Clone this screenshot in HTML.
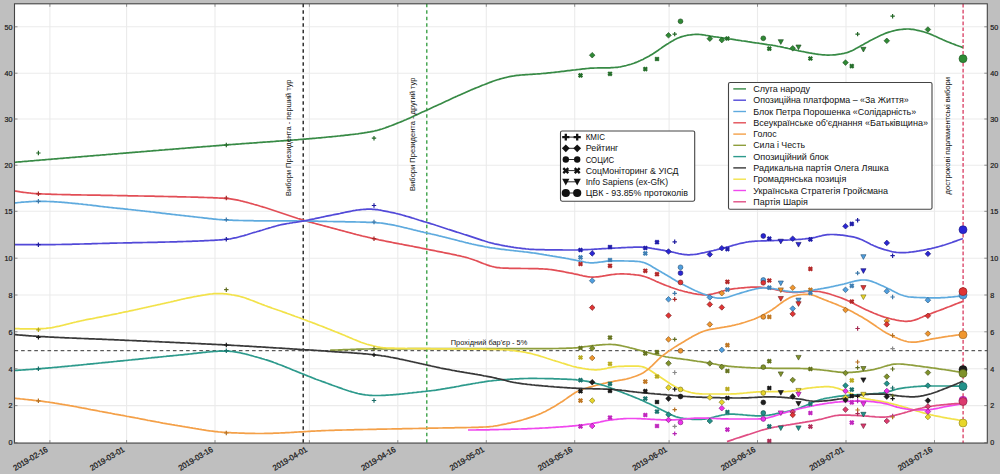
<!DOCTYPE html><html><head><meta charset="utf-8"><style>html,body{margin:0;padding:0;background:#bfbfbf;width:1000px;height:474px;overflow:hidden}svg{display:block}text{font-family:"Liberation Sans",sans-serif;fill:#111}</style></head><body>
<svg width="1000" height="474" viewBox="0 0 1000 474">
<rect x="0" y="0" width="1000" height="474" fill="#bfbfbf"/>
<rect x="14.5" y="3.8" width="972.8" height="439.3" fill="#ffffff"/>
<path d="M14.5,442.6H987.3M14.5,405.6H987.3M14.5,368.8H987.3M14.5,331.8H987.3M14.5,295.0H987.3M14.5,258.2H987.3M14.5,211.3H987.3M14.5,165.2H987.3M14.5,119.0H987.3M14.5,73.2H987.3M14.5,26.8H987.3M49.9,3.8V443.1M126.6,3.8V443.1M215.0,3.8V443.1M309.4,3.8V443.1M397.8,3.8V443.1M486.3,3.8V443.1M574.7,3.8V443.1M669.1,3.8V443.1M757.5,3.8V443.1M846.0,3.8V443.1M934.5,3.8V443.1" stroke="#ebebeb" stroke-width="1.1" fill="none"/>
<path d="M14.5,350.7H987.3" stroke="#333" stroke-width="1.0" stroke-dasharray="3.6,3.0" fill="none"/>
<text x="450.8" y="345.3" font-size="8" textLength="76.5" lengthAdjust="spacingAndGlyphs">Прохідний бар'єр - 5%</text>
<path d="M303.2,3.8V443.1" stroke="#111" stroke-width="1.3" stroke-dasharray="3.4,3.1" fill="none"/>
<path d="M426.8,3.8V443.1" stroke="#2e9a3a" stroke-width="1.3" stroke-dasharray="3.4,3.1" fill="none"/>
<path d="M963.1,3.8V443.1" stroke="#da4266" stroke-width="1.35" stroke-dasharray="3.7,2.2" fill="none"/>
<path d="M330.0,350.3 L331.5,350.2 L333.0,350.2 L334.5,350.1 L336.0,350.0 L337.5,350.0 L339.0,349.9 L340.5,349.8 L342.0,349.8 L343.5,349.7 L345.0,349.7 L346.5,349.6 L348.0,349.5 L349.5,349.5 L351.0,349.4 L352.5,349.4 L354.0,349.3 L355.5,349.3 L357.0,349.2 L358.5,349.2 L360.0,349.2 L361.5,349.1 L363.0,349.1 L364.5,349.0 L366.0,349.0 L367.5,349.0 L369.0,349.0 L370.5,348.9 L372.0,348.9 L373.5,348.9 L375.0,348.9 L376.5,348.9 L378.0,348.9 L379.5,348.9 L381.0,348.9 L382.5,348.9 L384.0,348.8 L385.5,348.8 L387.0,348.8 L388.5,348.8 L390.0,348.8 L391.5,348.8 L393.0,348.8 L394.5,348.8 L396.0,348.8 L397.5,348.8 L399.0,348.8 L400.5,348.8 L402.0,348.8 L403.5,348.8 L405.0,348.8 L406.5,348.8 L408.0,348.7 L409.5,348.7 L411.0,348.7 L412.5,348.7 L414.0,348.7 L415.5,348.7 L417.0,348.7 L418.5,348.7 L420.0,348.7 L421.5,348.7 L423.0,348.7 L424.5,348.7 L426.0,348.7 L427.5,348.7 L429.0,348.7 L430.5,348.7 L432.0,348.7 L433.5,348.7 L435.0,348.7 L436.5,348.7 L438.0,348.7 L439.5,348.7 L441.0,348.7 L442.5,348.7 L444.0,348.7 L445.5,348.7 L447.0,348.7 L448.5,348.7 L450.0,348.7 L451.5,348.7 L453.0,348.7 L454.5,348.7 L456.0,348.7 L457.5,348.7 L459.0,348.7 L460.5,348.7 L462.0,348.7 L463.5,348.7 L465.0,348.7 L466.5,348.7 L468.0,348.7 L469.5,348.7 L471.0,348.7 L472.5,348.7 L474.0,348.7 L475.5,348.7 L477.0,348.7 L478.5,348.7 L480.0,348.7 L481.5,348.7 L483.0,348.7 L484.5,348.7 L486.0,348.7 L487.5,348.7 L489.0,348.7 L490.5,348.7 L492.0,348.7 L493.5,348.7 L495.0,348.7 L496.5,348.7 L498.0,348.7 L499.5,348.7 L501.0,348.7 L502.5,348.7 L504.0,348.7 L505.5,348.7 L507.0,348.7 L508.5,348.7 L510.0,348.7 L511.5,348.7 L513.0,348.7 L514.5,348.7 L516.0,348.7 L517.5,348.7 L519.0,348.7 L520.5,348.7 L522.0,348.7 L523.5,348.7 L525.0,348.7 L526.5,348.7 L528.0,348.7 L529.5,348.7 L531.0,348.7 L532.5,348.7 L534.0,348.7 L535.5,348.7 L537.0,348.7 L538.5,348.7 L540.0,348.7 L541.5,348.7 L543.0,348.7 L544.5,348.7 L546.0,348.6 L547.5,348.6 L549.0,348.6 L550.5,348.6 L552.0,348.6 L553.5,348.5 L555.0,348.5 L556.5,348.5 L558.0,348.5 L559.5,348.4 L561.0,348.4 L562.5,348.4 L564.0,348.3 L565.5,348.3 L567.0,348.2 L568.5,348.2 L570.0,348.1 L571.5,348.1 L573.0,348.0 L574.5,347.9 L576.0,347.8 L577.5,347.7 L579.0,347.5 L580.5,347.3 L582.0,347.1 L583.5,346.9 L585.0,346.7 L586.5,346.5 L588.0,346.3 L589.5,346.1 L591.0,345.9 L592.5,345.7 L594.0,345.5 L595.5,345.4 L597.0,345.2 L598.5,345.1 L600.0,344.9 L601.5,344.8 L603.0,344.7 L604.5,344.6 L606.0,344.5 L607.5,344.5 L609.0,344.4 L610.5,344.4 L612.0,344.5 L613.5,344.6 L615.0,344.7 L616.5,344.9 L618.0,345.1 L619.5,345.4 L621.0,345.7 L622.5,346.0 L624.0,346.3 L625.5,346.7 L627.0,347.0 L628.5,347.4 L630.0,347.8 L631.5,348.1 L633.0,348.5 L634.5,348.9 L636.0,349.3 L637.5,349.7 L639.0,350.1 L640.5,350.5 L642.0,350.9 L643.5,351.3 L645.0,351.8 L646.5,352.2 L648.0,352.6 L649.5,353.0 L651.0,353.4 L652.5,353.8 L654.0,354.1 L655.5,354.5 L657.0,354.9 L658.5,355.2 L660.0,355.5 L661.5,355.9 L663.0,356.2 L664.5,356.5 L666.0,356.8 L667.5,357.0 L669.0,357.3 L670.5,357.5 L672.0,357.7 L673.5,358.0 L675.0,358.2 L676.5,358.4 L678.0,358.6 L679.5,358.7 L681.0,358.9 L682.5,359.1 L684.0,359.3 L685.5,359.5 L687.0,359.7 L688.5,359.9 L690.0,360.2 L691.5,360.4 L693.0,360.6 L694.5,360.8 L696.0,361.0 L697.5,361.3 L699.0,361.5 L700.5,361.7 L702.0,361.9 L703.5,362.2 L705.0,362.4 L706.5,362.6 L708.0,362.9 L709.5,363.2 L711.0,363.4 L712.5,363.7 L714.0,364.0 L715.5,364.2 L717.0,364.5 L718.5,364.8 L720.0,365.0 L721.5,365.3 L723.0,365.5 L724.5,365.7 L726.0,365.9 L727.5,366.1 L729.0,366.3 L730.5,366.4 L732.0,366.6 L733.5,366.7 L735.0,366.8 L736.5,366.9 L738.0,367.0 L739.5,367.1 L741.0,367.2 L742.5,367.3 L744.0,367.4 L745.5,367.5 L747.0,367.6 L748.5,367.7 L750.0,367.7 L751.5,367.8 L753.0,367.9 L754.5,367.9 L756.0,368.0 L757.5,368.0 L759.0,368.1 L760.5,368.1 L762.0,368.1 L763.5,368.2 L765.0,368.2 L766.5,368.2 L768.0,368.2 L769.5,368.2 L771.0,368.2 L772.5,368.3 L774.0,368.3 L775.5,368.3 L777.0,368.3 L778.5,368.3 L780.0,368.3 L781.5,368.3 L783.0,368.3 L784.5,368.3 L786.0,368.3 L787.5,368.3 L789.0,368.3 L790.5,368.3 L792.0,368.3 L793.5,368.4 L795.0,368.4 L796.5,368.4 L798.0,368.4 L799.5,368.4 L801.0,368.5 L802.5,368.5 L804.0,368.6 L805.5,368.7 L807.0,368.7 L808.5,368.8 L810.0,369.0 L811.5,369.1 L813.0,369.2 L814.5,369.3 L816.0,369.4 L817.5,369.6 L819.0,369.7 L820.5,369.8 L822.0,370.0 L823.5,370.2 L825.0,370.3 L826.5,370.5 L828.0,370.7 L829.5,370.9 L831.0,371.1 L832.5,371.3 L834.0,371.5 L835.5,371.7 L837.0,371.9 L838.5,372.1 L840.0,372.2 L841.5,372.3 L843.0,372.4 L844.5,372.5 L846.0,372.5 L847.5,372.5 L849.0,372.4 L850.5,372.4 L852.0,372.3 L853.5,372.2 L855.0,372.1 L856.5,371.9 L858.0,371.8 L859.5,371.6 L861.0,371.4 L862.5,371.2 L864.0,371.0 L865.5,370.8 L867.0,370.6 L868.5,370.3 L870.0,370.1 L871.5,369.8 L873.0,369.6 L874.5,369.3 L876.0,368.9 L877.5,368.5 L879.0,368.1 L880.5,367.7 L882.0,367.2 L883.5,366.8 L885.0,366.3 L886.5,365.9 L888.0,365.4 L889.5,365.1 L891.0,364.7 L892.5,364.4 L894.0,364.2 L895.5,364.1 L897.0,364.0 L898.5,364.0 L900.0,364.0 L901.5,364.1 L903.0,364.2 L904.5,364.3 L906.0,364.5 L907.5,364.7 L909.0,364.8 L910.5,365.0 L912.0,365.2 L913.5,365.4 L915.0,365.6 L916.5,365.8 L918.0,366.0 L919.5,366.2 L921.0,366.4 L922.5,366.6 L924.0,366.8 L925.5,367.0 L927.0,367.2 L928.5,367.4 L930.0,367.6 L931.5,367.8 L933.0,368.0 L934.5,368.2 L936.0,368.4 L937.5,368.6 L939.0,368.9 L940.5,369.1 L942.0,369.3 L943.5,369.5 L945.0,369.7 L946.5,370.0 L948.0,370.2 L949.5,370.4 L951.0,370.6 L952.5,370.9 L954.0,371.1 L955.5,371.4 L957.0,371.6 L958.5,371.8 L960.0,372.1 L961.5,372.3 L963.0,372.6" stroke="#8e9e3c" stroke-width="1.7" fill="none" stroke-linejoin="round"/>
<path d="M14.4,328.7 L15.9,328.7 L17.4,328.7 L18.9,328.7 L20.4,328.8 L21.9,328.8 L23.4,328.8 L24.9,328.8 L26.4,328.8 L27.9,328.8 L29.4,328.8 L30.9,328.8 L32.4,328.8 L33.9,328.8 L35.4,328.8 L36.9,328.8 L38.4,328.8 L39.9,328.7 L41.4,328.7 L42.9,328.6 L44.4,328.5 L45.9,328.4 L47.4,328.2 L48.9,328.0 L50.4,327.8 L51.9,327.6 L53.4,327.3 L54.9,327.0 L56.4,326.7 L57.9,326.4 L59.4,326.1 L60.9,325.7 L62.4,325.4 L63.9,325.0 L65.4,324.6 L66.9,324.2 L68.4,323.9 L69.9,323.5 L71.4,323.1 L72.9,322.7 L74.4,322.3 L75.9,322.0 L77.4,321.6 L78.9,321.3 L80.4,321.0 L81.9,320.7 L83.4,320.3 L84.9,320.0 L86.4,319.7 L87.9,319.4 L89.4,319.1 L90.9,318.8 L92.4,318.6 L93.9,318.3 L95.4,318.0 L96.9,317.7 L98.4,317.4 L99.9,317.1 L101.4,316.8 L102.9,316.5 L104.4,316.2 L105.9,315.9 L107.4,315.6 L108.9,315.3 L110.4,315.0 L111.9,314.7 L113.4,314.4 L114.9,314.1 L116.4,313.8 L117.9,313.5 L119.4,313.1 L120.9,312.8 L122.4,312.5 L123.9,312.2 L125.4,311.9 L126.9,311.6 L128.4,311.3 L129.9,310.9 L131.4,310.6 L132.9,310.3 L134.4,310.0 L135.9,309.7 L137.4,309.3 L138.9,309.0 L140.4,308.7 L141.9,308.3 L143.4,308.0 L144.9,307.7 L146.4,307.3 L147.9,307.0 L149.4,306.7 L150.9,306.3 L152.4,306.0 L153.9,305.7 L155.4,305.3 L156.9,305.0 L158.4,304.7 L159.9,304.4 L161.4,304.0 L162.9,303.7 L164.4,303.3 L165.9,303.0 L167.4,302.7 L168.9,302.3 L170.4,302.0 L171.9,301.6 L173.4,301.3 L174.9,300.9 L176.4,300.6 L177.9,300.2 L179.4,299.9 L180.9,299.5 L182.4,299.2 L183.9,298.8 L185.4,298.5 L186.9,298.2 L188.4,297.9 L189.9,297.6 L191.4,297.3 L192.9,297.0 L194.4,296.7 L195.9,296.5 L197.4,296.2 L198.9,295.9 L200.4,295.7 L201.9,295.4 L203.4,295.1 L204.9,294.9 L206.4,294.6 L207.9,294.4 L209.4,294.2 L210.9,294.0 L212.4,293.9 L213.9,293.7 L215.4,293.6 L216.9,293.6 L218.4,293.5 L219.9,293.6 L221.4,293.6 L222.9,293.7 L224.4,293.8 L225.9,293.9 L227.4,294.1 L228.9,294.3 L230.4,294.5 L231.9,294.8 L233.4,295.0 L234.9,295.3 L236.4,295.6 L237.9,295.9 L239.4,296.3 L240.9,296.7 L242.4,297.1 L243.9,297.5 L245.4,298.0 L246.9,298.6 L248.4,299.1 L249.9,299.7 L251.4,300.3 L252.9,300.8 L254.4,301.4 L255.9,302.0 L257.4,302.6 L258.9,303.2 L260.4,303.8 L261.9,304.4 L263.4,304.9 L264.9,305.5 L266.4,306.0 L267.9,306.6 L269.4,307.1 L270.9,307.6 L272.4,308.2 L273.9,308.7 L275.4,309.2 L276.9,309.7 L278.4,310.3 L279.9,310.8 L281.4,311.3 L282.9,311.9 L284.4,312.4 L285.9,312.9 L287.4,313.5 L288.9,314.0 L290.4,314.5 L291.9,315.1 L293.4,315.6 L294.9,316.2 L296.4,316.7 L297.9,317.3 L299.4,317.8 L300.9,318.4 L302.4,318.9 L303.9,319.5 L305.4,320.0 L306.9,320.6 L308.4,321.2 L309.9,321.7 L311.4,322.3 L312.9,322.9 L314.4,323.4 L315.9,324.0 L317.4,324.6 L318.9,325.2 L320.4,325.8 L321.9,326.3 L323.4,326.9 L324.9,327.5 L326.4,328.1 L327.9,328.7 L329.4,329.3 L330.9,329.9 L332.4,330.5 L333.9,331.1 L335.4,331.7 L336.9,332.3 L338.4,332.9 L339.9,333.5 L341.4,334.1 L342.9,334.7 L344.4,335.3 L345.9,336.0 L347.4,336.6 L348.9,337.2 L350.4,337.9 L351.9,338.5 L353.4,339.2 L354.9,339.8 L356.4,340.4 L357.9,341.0 L359.4,341.6 L360.9,342.2 L362.4,342.7 L363.9,343.2 L365.4,343.7 L366.9,344.2 L368.4,344.6 L369.9,345.0 L371.4,345.4 L372.9,345.8 L374.4,346.2 L375.9,346.5 L377.4,346.9 L378.9,347.1 L380.4,347.4 L381.9,347.6 L383.4,347.8 L384.9,347.9 L386.4,348.0 L387.9,348.1 L389.4,348.1 L390.9,348.2 L392.4,348.2 L393.9,348.2 L395.4,348.3 L396.9,348.3 L398.4,348.3 L399.9,348.4 L401.4,348.4 L402.9,348.4 L404.4,348.4 L405.9,348.5 L407.4,348.5 L408.9,348.5 L410.4,348.5 L411.9,348.5 L413.4,348.5 L414.9,348.6 L416.4,348.6 L417.9,348.6 L419.4,348.6 L420.9,348.6 L422.4,348.6 L423.9,348.7 L425.4,348.7 L426.9,348.7 L428.4,348.7 L429.9,348.7 L431.4,348.8 L432.9,348.8 L434.4,348.8 L435.9,348.8 L437.4,348.8 L438.9,348.8 L440.4,348.8 L441.9,348.9 L443.4,348.9 L444.9,348.9 L446.4,348.9 L447.9,348.9 L449.4,348.9 L450.9,348.9 L452.4,348.9 L453.9,348.9 L455.4,349.0 L456.9,349.0 L458.4,349.0 L459.9,349.0 L461.4,349.0 L462.9,349.0 L464.4,349.0 L465.9,349.0 L467.4,349.0 L468.9,349.1 L470.4,349.1 L471.9,349.1 L473.4,349.1 L474.9,349.1 L476.4,349.1 L477.9,349.1 L479.4,349.2 L480.9,349.2 L482.4,349.2 L483.9,349.2 L485.4,349.2 L486.9,349.3 L488.4,349.3 L489.9,349.3 L491.4,349.3 L492.9,349.4 L494.4,349.4 L495.9,349.4 L497.4,349.5 L498.9,349.5 L500.4,349.6 L501.9,349.6 L503.4,349.7 L504.9,349.8 L506.4,349.9 L507.9,350.0 L509.4,350.2 L510.9,350.3 L512.4,350.5 L513.9,350.7 L515.4,350.9 L516.9,351.1 L518.4,351.3 L519.9,351.5 L521.4,351.7 L522.9,351.9 L524.4,352.2 L525.9,352.5 L527.4,352.8 L528.9,353.1 L530.4,353.4 L531.9,353.8 L533.4,354.2 L534.9,354.6 L536.4,355.0 L537.9,355.4 L539.4,355.9 L540.9,356.4 L542.4,356.8 L543.9,357.3 L545.4,357.8 L546.9,358.3 L548.4,358.7 L549.9,359.2 L551.4,359.7 L552.9,360.2 L554.4,360.6 L555.9,361.1 L557.4,361.5 L558.9,362.0 L560.4,362.5 L561.9,363.0 L563.4,363.4 L564.9,363.9 L566.4,364.4 L567.9,364.9 L569.4,365.3 L570.9,365.7 L572.4,366.2 L573.9,366.6 L575.4,366.9 L576.9,367.3 L578.4,367.6 L579.9,367.9 L581.4,368.2 L582.9,368.5 L584.4,368.7 L585.9,369.0 L587.4,369.2 L588.9,369.4 L590.4,369.5 L591.9,369.7 L593.4,369.7 L594.9,369.8 L596.4,369.8 L597.9,369.7 L599.4,369.6 L600.9,369.4 L602.4,369.1 L603.9,368.9 L605.4,368.6 L606.9,368.3 L608.4,367.9 L609.9,367.6 L611.4,367.3 L612.9,367.1 L614.4,366.9 L615.9,366.7 L617.4,366.5 L618.9,366.4 L620.4,366.4 L621.9,366.3 L623.4,366.3 L624.9,366.2 L626.4,366.2 L627.9,366.1 L629.4,366.1 L630.9,366.1 L632.4,366.1 L633.9,366.1 L635.4,366.1 L636.9,366.1 L638.4,366.2 L639.9,366.3 L641.4,366.5 L642.9,366.9 L644.4,367.4 L645.9,368.0 L647.4,368.8 L648.9,369.6 L650.4,370.5 L651.9,371.5 L653.4,372.5 L654.9,373.5 L656.4,374.5 L657.9,375.5 L659.4,376.5 L660.9,377.5 L662.4,378.5 L663.9,379.5 L665.4,380.5 L666.9,381.5 L668.4,382.5 L669.9,383.5 L671.4,384.4 L672.9,385.3 L674.4,386.2 L675.9,387.0 L677.4,387.7 L678.9,388.4 L680.4,389.0 L681.9,389.6 L683.4,390.1 L684.9,390.7 L686.4,391.2 L687.9,391.6 L689.4,392.1 L690.9,392.5 L692.4,392.8 L693.9,393.1 L695.4,393.4 L696.9,393.6 L698.4,393.7 L699.9,393.9 L701.4,393.9 L702.9,394.0 L704.4,394.0 L705.9,394.0 L707.4,394.0 L708.9,394.0 L710.4,394.0 L711.9,394.0 L713.4,394.0 L714.9,394.0 L716.4,394.0 L717.9,394.0 L719.4,394.0 L720.9,394.0 L722.4,394.0 L723.9,394.0 L725.4,394.0 L726.9,394.0 L728.4,394.0 L729.9,394.0 L731.4,393.9 L732.9,393.9 L734.4,393.8 L735.9,393.8 L737.4,393.7 L738.9,393.6 L740.4,393.4 L741.9,393.3 L743.4,393.2 L744.9,393.0 L746.4,392.9 L747.9,392.7 L749.4,392.6 L750.9,392.4 L752.4,392.3 L753.9,392.2 L755.4,392.1 L756.9,391.9 L758.4,391.9 L759.9,391.8 L761.4,391.7 L762.9,391.7 L764.4,391.6 L765.9,391.6 L767.4,391.6 L768.9,391.6 L770.4,391.6 L771.9,391.6 L773.4,391.6 L774.9,391.6 L776.4,391.6 L777.9,391.6 L779.4,391.6 L780.9,391.6 L782.4,391.6 L783.9,391.6 L785.4,391.6 L786.9,391.5 L788.4,391.4 L789.9,391.3 L791.4,391.2 L792.9,391.0 L794.4,390.8 L795.9,390.5 L797.4,390.2 L798.9,389.9 L800.4,389.6 L801.9,389.3 L803.4,389.0 L804.9,388.7 L806.4,388.4 L807.9,388.2 L809.4,388.0 L810.9,387.8 L812.4,387.6 L813.9,387.5 L815.4,387.3 L816.9,387.2 L818.4,387.1 L819.9,387.0 L821.4,386.9 L822.9,386.8 L824.4,386.7 L825.9,386.7 L827.4,386.7 L828.9,386.7 L830.4,386.8 L831.9,387.0 L833.4,387.2 L834.9,387.6 L836.4,388.0 L837.9,388.4 L839.4,388.9 L840.9,389.5 L842.4,390.0 L843.9,390.6 L845.4,391.2 L846.9,391.8 L848.4,392.4 L849.9,393.1 L851.4,393.7 L852.9,394.4 L854.4,395.0 L855.9,395.7 L857.4,396.3 L858.9,396.8 L860.4,397.3 L861.9,397.8 L863.4,398.2 L864.9,398.5 L866.4,398.9 L867.9,399.1 L869.4,399.4 L870.9,399.7 L872.4,399.9 L873.9,400.1 L875.4,400.4 L876.9,400.6 L878.4,400.8 L879.9,401.1 L881.4,401.4 L882.9,401.7 L884.4,402.0 L885.9,402.3 L887.4,402.6 L888.9,403.0 L890.4,403.3 L891.9,403.7 L893.4,404.1 L894.9,404.5 L896.4,404.9 L897.9,405.3 L899.4,405.7 L900.9,406.1 L902.4,406.6 L903.9,407.0 L905.4,407.4 L906.9,407.8 L908.4,408.3 L909.9,408.7 L911.4,409.2 L912.9,409.7 L914.4,410.1 L915.9,410.6 L917.4,411.1 L918.9,411.5 L920.4,412.0 L921.9,412.4 L923.4,412.9 L924.9,413.3 L926.4,413.7 L927.9,414.1 L929.4,414.4 L930.9,414.8 L932.4,415.1 L933.9,415.5 L935.4,415.8 L936.9,416.1 L938.4,416.4 L939.9,416.7 L941.4,417.0 L942.9,417.3 L944.4,417.6 L945.9,417.9 L947.4,418.2 L948.9,418.4 L950.4,418.7 L951.9,419.0 L953.4,419.2 L954.9,419.4 L956.4,419.6 L957.9,419.9 L959.4,420.1 L960.9,420.3 L962.4,420.5 L962.9,420.6" stroke="#f2e24a" stroke-width="1.7" fill="none" stroke-linejoin="round"/>
<path d="M14.4,398.3 L15.9,398.4 L17.4,398.6 L18.9,398.7 L20.4,398.9 L21.9,399.0 L23.4,399.1 L24.9,399.3 L26.4,399.5 L27.9,399.6 L29.4,399.8 L30.9,399.9 L32.4,400.1 L33.9,400.3 L35.4,400.5 L36.9,400.6 L38.4,400.8 L39.9,401.0 L41.4,401.2 L42.9,401.4 L44.4,401.6 L45.9,401.8 L47.4,402.0 L48.9,402.2 L50.4,402.5 L51.9,402.7 L53.4,402.9 L54.9,403.2 L56.4,403.4 L57.9,403.6 L59.4,403.9 L60.9,404.1 L62.4,404.4 L63.9,404.6 L65.4,404.9 L66.9,405.1 L68.4,405.4 L69.9,405.7 L71.4,405.9 L72.9,406.2 L74.4,406.5 L75.9,406.7 L77.4,407.0 L78.9,407.3 L80.4,407.6 L81.9,407.9 L83.4,408.1 L84.9,408.4 L86.4,408.7 L87.9,409.0 L89.4,409.3 L90.9,409.6 L92.4,409.8 L93.9,410.1 L95.4,410.4 L96.9,410.7 L98.4,411.0 L99.9,411.3 L101.4,411.5 L102.9,411.8 L104.4,412.1 L105.9,412.4 L107.4,412.7 L108.9,413.0 L110.4,413.2 L111.9,413.5 L113.4,413.8 L114.9,414.1 L116.4,414.3 L117.9,414.6 L119.4,414.9 L120.9,415.2 L122.4,415.4 L123.9,415.7 L125.4,416.0 L126.9,416.3 L128.4,416.5 L129.9,416.8 L131.4,417.1 L132.9,417.4 L134.4,417.7 L135.9,418.0 L137.4,418.2 L138.9,418.5 L140.4,418.8 L141.9,419.1 L143.4,419.4 L144.9,419.7 L146.4,420.0 L147.9,420.3 L149.4,420.5 L150.9,420.8 L152.4,421.1 L153.9,421.4 L155.4,421.7 L156.9,422.0 L158.4,422.2 L159.9,422.5 L161.4,422.8 L162.9,423.1 L164.4,423.3 L165.9,423.6 L167.4,423.9 L168.9,424.1 L170.4,424.4 L171.9,424.7 L173.4,424.9 L174.9,425.2 L176.4,425.4 L177.9,425.7 L179.4,425.9 L180.9,426.1 L182.4,426.4 L183.9,426.6 L185.4,426.9 L186.9,427.1 L188.4,427.4 L189.9,427.7 L191.4,427.9 L192.9,428.2 L194.4,428.4 L195.9,428.7 L197.4,428.9 L198.9,429.2 L200.4,429.4 L201.9,429.7 L203.4,429.9 L204.9,430.1 L206.4,430.4 L207.9,430.6 L209.4,430.8 L210.9,431.0 L212.4,431.2 L213.9,431.4 L215.4,431.6 L216.9,431.7 L218.4,431.9 L219.9,432.0 L221.4,432.1 L222.9,432.3 L224.4,432.4 L225.9,432.4 L227.4,432.5 L228.9,432.6 L230.4,432.7 L231.9,432.8 L233.4,432.8 L234.9,432.9 L236.4,432.9 L237.9,433.0 L239.4,433.1 L240.9,433.1 L242.4,433.2 L243.9,433.2 L245.4,433.3 L246.9,433.3 L248.4,433.3 L249.9,433.4 L251.4,433.4 L252.9,433.4 L254.4,433.4 L255.9,433.5 L257.4,433.5 L258.9,433.5 L260.4,433.5 L261.9,433.5 L263.4,433.5 L264.9,433.4 L266.4,433.4 L267.9,433.4 L269.4,433.4 L270.9,433.3 L272.4,433.3 L273.9,433.2 L275.4,433.2 L276.9,433.1 L278.4,433.1 L279.9,433.0 L281.4,432.9 L282.9,432.9 L284.4,432.8 L285.9,432.7 L287.4,432.6 L288.9,432.6 L290.4,432.5 L291.9,432.4 L293.4,432.3 L294.9,432.2 L296.4,432.1 L297.9,432.0 L299.4,431.9 L300.9,431.9 L302.4,431.8 L303.9,431.7 L305.4,431.6 L306.9,431.5 L308.4,431.4 L309.9,431.3 L311.4,431.2 L312.9,431.2 L314.4,431.1 L315.9,431.0 L317.4,430.9 L318.9,430.9 L320.4,430.8 L321.9,430.7 L323.4,430.7 L324.9,430.6 L326.4,430.5 L327.9,430.5 L329.4,430.4 L330.9,430.4 L332.4,430.3 L333.9,430.3 L335.4,430.2 L336.9,430.2 L338.4,430.2 L339.9,430.1 L341.4,430.1 L342.9,430.0 L344.4,430.0 L345.9,430.0 L347.4,429.9 L348.9,429.9 L350.4,429.8 L351.9,429.8 L353.4,429.8 L354.9,429.7 L356.4,429.7 L357.9,429.7 L359.4,429.6 L360.9,429.6 L362.4,429.6 L363.9,429.5 L365.4,429.5 L366.9,429.5 L368.4,429.4 L369.9,429.4 L371.4,429.4 L372.9,429.3 L374.4,429.3 L375.9,429.3 L377.4,429.2 L378.9,429.2 L380.4,429.2 L381.9,429.1 L383.4,429.1 L384.9,429.1 L386.4,429.1 L387.9,429.0 L389.4,429.0 L390.9,429.0 L392.4,428.9 L393.9,428.9 L395.4,428.9 L396.9,428.9 L398.4,428.8 L399.9,428.8 L401.4,428.8 L402.9,428.7 L404.4,428.7 L405.9,428.7 L407.4,428.7 L408.9,428.6 L410.4,428.6 L411.9,428.6 L413.4,428.5 L414.9,428.5 L416.4,428.5 L417.9,428.5 L419.4,428.4 L420.9,428.4 L422.4,428.4 L423.9,428.3 L425.4,428.3 L426.9,428.3 L428.4,428.2 L429.9,428.2 L431.4,428.2 L432.9,428.2 L434.4,428.1 L435.9,428.1 L437.4,428.1 L438.9,428.0 L440.4,428.0 L441.9,428.0 L443.4,427.9 L444.9,427.9 L446.4,427.9 L447.9,427.9 L449.4,427.8 L450.9,427.8 L452.4,427.8 L453.9,427.8 L455.4,427.7 L456.9,427.7 L458.4,427.7 L459.9,427.7 L461.4,427.6 L462.9,427.6 L464.4,427.6 L465.9,427.6 L467.4,427.5 L468.9,427.5 L470.4,427.5 L471.9,427.4 L473.4,427.4 L474.9,427.4 L476.4,427.3 L477.9,427.3 L479.4,427.2 L480.9,427.2 L482.4,427.1 L483.9,427.0 L485.4,427.0 L486.9,426.9 L488.4,426.8 L489.9,426.6 L491.4,426.5 L492.9,426.3 L494.4,426.0 L495.9,425.8 L497.4,425.6 L498.9,425.3 L500.4,425.0 L501.9,424.7 L503.4,424.4 L504.9,424.1 L506.4,423.8 L507.9,423.4 L509.4,423.1 L510.9,422.8 L512.4,422.4 L513.9,422.1 L515.4,421.7 L516.9,421.4 L518.4,421.0 L519.9,420.6 L521.4,420.2 L522.9,419.8 L524.4,419.3 L525.9,418.9 L527.4,418.4 L528.9,417.9 L530.4,417.4 L531.9,416.9 L533.4,416.4 L534.9,415.9 L536.4,415.3 L537.9,414.7 L539.4,414.1 L540.9,413.5 L542.4,412.8 L543.9,412.1 L545.4,411.4 L546.9,410.6 L548.4,409.8 L549.9,409.0 L551.4,408.1 L552.9,407.2 L554.4,406.4 L555.9,405.5 L557.4,404.5 L558.9,403.6 L560.4,402.6 L561.9,401.7 L563.4,400.7 L564.9,399.6 L566.4,398.6 L567.9,397.5 L569.4,396.5 L570.9,395.5 L572.4,394.4 L573.9,393.5 L575.4,392.6 L576.9,391.8 L578.4,391.0 L579.9,390.3 L581.4,389.7 L582.9,389.2 L584.4,388.7 L585.9,388.2 L587.4,387.7 L588.9,387.3 L590.4,386.9 L591.9,386.5 L593.4,386.1 L594.9,385.7 L596.4,385.3 L597.9,384.9 L599.4,384.6 L600.9,384.2 L602.4,383.8 L603.9,383.4 L605.4,383.1 L606.9,382.7 L608.4,382.4 L609.9,382.1 L611.4,381.8 L612.9,381.5 L614.4,381.2 L615.9,380.9 L617.4,380.7 L618.9,380.4 L620.4,380.1 L621.9,379.9 L623.4,379.6 L624.9,379.3 L626.4,379.0 L627.9,378.6 L629.4,378.2 L630.9,377.8 L632.4,377.3 L633.9,376.8 L635.4,376.3 L636.9,375.7 L638.4,375.1 L639.9,374.4 L641.4,373.7 L642.9,372.9 L644.4,372.0 L645.9,370.9 L647.4,369.8 L648.9,368.6 L650.4,367.2 L651.9,365.8 L653.4,364.3 L654.9,362.8 L656.4,361.4 L657.9,359.9 L659.4,358.5 L660.9,357.2 L662.4,355.9 L663.9,354.7 L665.4,353.6 L666.9,352.5 L668.4,351.4 L669.9,350.4 L671.4,349.4 L672.9,348.4 L674.4,347.4 L675.9,346.4 L677.4,345.5 L678.9,344.6 L680.4,343.7 L681.9,342.8 L683.4,341.9 L684.9,341.0 L686.4,340.1 L687.9,339.2 L689.4,338.3 L690.9,337.5 L692.4,336.6 L693.9,335.8 L695.4,335.0 L696.9,334.2 L698.4,333.4 L699.9,332.8 L701.4,332.1 L702.9,331.5 L704.4,331.0 L705.9,330.5 L707.4,330.1 L708.9,329.7 L710.4,329.4 L711.9,329.1 L713.4,328.8 L714.9,328.6 L716.4,328.3 L717.9,328.1 L719.4,327.9 L720.9,327.6 L722.4,327.4 L723.9,327.2 L725.4,326.9 L726.9,326.7 L728.4,326.4 L729.9,326.1 L731.4,325.8 L732.9,325.4 L734.4,325.1 L735.9,324.7 L737.4,324.3 L738.9,324.0 L740.4,323.6 L741.9,323.1 L743.4,322.7 L744.9,322.3 L746.4,321.8 L747.9,321.3 L749.4,320.8 L750.9,320.3 L752.4,319.7 L753.9,319.2 L755.4,318.6 L756.9,317.9 L758.4,317.3 L759.9,316.6 L761.4,315.9 L762.9,315.1 L764.4,314.3 L765.9,313.5 L767.4,312.6 L768.9,311.8 L770.4,310.8 L771.9,309.9 L773.4,308.8 L774.9,307.8 L776.4,306.6 L777.9,305.5 L779.4,304.4 L780.9,303.3 L782.4,302.2 L783.9,301.1 L785.4,300.2 L786.9,299.2 L788.4,298.4 L789.9,297.6 L791.4,297.0 L792.9,296.4 L794.4,295.9 L795.9,295.5 L797.4,295.2 L798.9,294.9 L800.4,294.7 L801.9,294.5 L803.4,294.4 L804.9,294.3 L806.4,294.3 L807.9,294.3 L809.4,294.5 L810.9,294.7 L812.4,295.1 L813.9,295.5 L815.4,296.0 L816.9,296.6 L818.4,297.2 L819.9,297.9 L821.4,298.5 L822.9,299.1 L824.4,299.7 L825.9,300.3 L827.4,300.9 L828.9,301.5 L830.4,302.0 L831.9,302.6 L833.4,303.2 L834.9,303.8 L836.4,304.4 L837.9,305.0 L839.4,305.7 L840.9,306.3 L842.4,307.0 L843.9,307.6 L845.4,308.3 L846.9,309.0 L848.4,309.8 L849.9,310.5 L851.4,311.3 L852.9,312.1 L854.4,312.9 L855.9,313.7 L857.4,314.5 L858.9,315.4 L860.4,316.2 L861.9,317.1 L863.4,318.0 L864.9,318.9 L866.4,319.8 L867.9,320.7 L869.4,321.7 L870.9,322.7 L872.4,323.7 L873.9,324.8 L875.4,325.8 L876.9,326.9 L878.4,327.9 L879.9,328.9 L881.4,329.9 L882.9,330.9 L884.4,331.8 L885.9,332.7 L887.4,333.5 L888.9,334.3 L890.4,335.1 L891.9,335.8 L893.4,336.5 L894.9,337.2 L896.4,337.8 L897.9,338.5 L899.4,339.1 L900.9,339.7 L902.4,340.2 L903.9,340.7 L905.4,341.1 L906.9,341.5 L908.4,341.8 L909.9,342.0 L911.4,342.1 L912.9,342.2 L914.4,342.2 L915.9,342.1 L917.4,341.9 L918.9,341.7 L920.4,341.4 L921.9,341.1 L923.4,340.8 L924.9,340.5 L926.4,340.1 L927.9,339.8 L929.4,339.5 L930.9,339.2 L932.4,338.9 L933.9,338.6 L935.4,338.4 L936.9,338.1 L938.4,337.9 L939.9,337.6 L941.4,337.4 L942.9,337.1 L944.4,336.9 L945.9,336.7 L947.4,336.5 L948.9,336.2 L950.4,336.0 L951.9,335.8 L953.4,335.6 L954.9,335.4 L956.4,335.2 L957.9,335.0 L959.4,334.8 L960.9,334.6 L962.4,334.4 L962.9,334.3" stroke="#f4a048" stroke-width="1.7" fill="none" stroke-linejoin="round"/>
<path d="M14.4,370.5 L15.9,370.4 L17.4,370.3 L18.9,370.2 L20.4,370.1 L21.9,370.0 L23.4,369.9 L24.9,369.8 L26.4,369.7 L27.9,369.6 L29.4,369.5 L30.9,369.4 L32.4,369.3 L33.9,369.1 L35.4,369.0 L36.9,368.9 L38.4,368.8 L39.9,368.7 L41.4,368.6 L42.9,368.4 L44.4,368.3 L45.9,368.2 L47.4,368.1 L48.9,367.9 L50.4,367.8 L51.9,367.7 L53.4,367.5 L54.9,367.4 L56.4,367.3 L57.9,367.1 L59.4,367.0 L60.9,366.8 L62.4,366.7 L63.9,366.6 L65.4,366.4 L66.9,366.3 L68.4,366.1 L69.9,366.0 L71.4,365.9 L72.9,365.7 L74.4,365.6 L75.9,365.4 L77.4,365.3 L78.9,365.1 L80.4,365.0 L81.9,364.8 L83.4,364.7 L84.9,364.5 L86.4,364.4 L87.9,364.2 L89.4,364.1 L90.9,363.9 L92.4,363.8 L93.9,363.6 L95.4,363.5 L96.9,363.3 L98.4,363.2 L99.9,363.0 L101.4,362.9 L102.9,362.7 L104.4,362.6 L105.9,362.4 L107.4,362.3 L108.9,362.1 L110.4,362.0 L111.9,361.8 L113.4,361.7 L114.9,361.5 L116.4,361.4 L117.9,361.2 L119.4,361.1 L120.9,360.9 L122.4,360.8 L123.9,360.6 L125.4,360.5 L126.9,360.3 L128.4,360.2 L129.9,360.0 L131.4,359.9 L132.9,359.7 L134.4,359.6 L135.9,359.4 L137.4,359.3 L138.9,359.1 L140.4,358.9 L141.9,358.8 L143.4,358.6 L144.9,358.5 L146.4,358.3 L147.9,358.2 L149.4,358.0 L150.9,357.9 L152.4,357.7 L153.9,357.6 L155.4,357.4 L156.9,357.3 L158.4,357.1 L159.9,357.0 L161.4,356.8 L162.9,356.7 L164.4,356.5 L165.9,356.4 L167.4,356.2 L168.9,356.1 L170.4,355.9 L171.9,355.8 L173.4,355.6 L174.9,355.5 L176.4,355.3 L177.9,355.2 L179.4,355.0 L180.9,354.9 L182.4,354.8 L183.9,354.6 L185.4,354.4 L186.9,354.3 L188.4,354.1 L189.9,354.0 L191.4,353.8 L192.9,353.6 L194.4,353.4 L195.9,353.3 L197.4,353.1 L198.9,352.9 L200.4,352.8 L201.9,352.6 L203.4,352.4 L204.9,352.3 L206.4,352.1 L207.9,352.0 L209.4,351.9 L210.9,351.7 L212.4,351.6 L213.9,351.5 L215.4,351.4 L216.9,351.3 L218.4,351.2 L219.9,351.2 L221.4,351.1 L222.9,351.1 L224.4,351.1 L225.9,351.1 L227.4,351.1 L228.9,351.2 L230.4,351.3 L231.9,351.5 L233.4,351.6 L234.9,351.8 L236.4,352.1 L237.9,352.4 L239.4,352.7 L240.9,353.0 L242.4,353.3 L243.9,353.7 L245.4,354.0 L246.9,354.4 L248.4,354.8 L249.9,355.2 L251.4,355.6 L252.9,356.0 L254.4,356.5 L255.9,356.9 L257.4,357.3 L258.9,357.7 L260.4,358.1 L261.9,358.6 L263.4,359.0 L264.9,359.5 L266.4,359.9 L267.9,360.4 L269.4,360.9 L270.9,361.4 L272.4,361.9 L273.9,362.5 L275.4,363.0 L276.9,363.6 L278.4,364.2 L279.9,364.7 L281.4,365.3 L282.9,365.9 L284.4,366.5 L285.9,367.1 L287.4,367.7 L288.9,368.3 L290.4,368.9 L291.9,369.6 L293.4,370.2 L294.9,370.8 L296.4,371.4 L297.9,372.0 L299.4,372.6 L300.9,373.2 L302.4,373.8 L303.9,374.4 L305.4,375.0 L306.9,375.6 L308.4,376.2 L309.9,376.8 L311.4,377.4 L312.9,378.0 L314.4,378.6 L315.9,379.2 L317.4,379.7 L318.9,380.3 L320.4,380.8 L321.9,381.4 L323.4,381.9 L324.9,382.4 L326.4,383.0 L327.9,383.5 L329.4,384.1 L330.9,384.6 L332.4,385.2 L333.9,385.7 L335.4,386.3 L336.9,386.8 L338.4,387.4 L339.9,387.9 L341.4,388.4 L342.9,389.0 L344.4,389.5 L345.9,390.0 L347.4,390.5 L348.9,391.0 L350.4,391.4 L351.9,391.9 L353.4,392.3 L354.9,392.7 L356.4,393.1 L357.9,393.5 L359.4,393.8 L360.9,394.1 L362.4,394.4 L363.9,394.6 L365.4,394.9 L366.9,395.0 L368.4,395.2 L369.9,395.3 L371.4,395.4 L372.9,395.5 L374.4,395.5 L375.9,395.5 L377.4,395.5 L378.9,395.5 L380.4,395.5 L381.9,395.4 L383.4,395.3 L384.9,395.3 L386.4,395.2 L387.9,395.1 L389.4,395.0 L390.9,394.9 L392.4,394.8 L393.9,394.7 L395.4,394.6 L396.9,394.4 L398.4,394.3 L399.9,394.1 L401.4,394.0 L402.9,393.8 L404.4,393.7 L405.9,393.5 L407.4,393.4 L408.9,393.2 L410.4,393.0 L411.9,392.9 L413.4,392.7 L414.9,392.5 L416.4,392.4 L417.9,392.2 L419.4,392.0 L420.9,391.9 L422.4,391.7 L423.9,391.5 L425.4,391.4 L426.9,391.2 L428.4,391.0 L429.9,390.8 L431.4,390.7 L432.9,390.5 L434.4,390.3 L435.9,390.1 L437.4,389.8 L438.9,389.6 L440.4,389.4 L441.9,389.1 L443.4,388.9 L444.9,388.7 L446.4,388.4 L447.9,388.1 L449.4,387.9 L450.9,387.6 L452.4,387.3 L453.9,387.1 L455.4,386.8 L456.9,386.5 L458.4,386.3 L459.9,386.0 L461.4,385.7 L462.9,385.4 L464.4,385.1 L465.9,384.9 L467.4,384.6 L468.9,384.3 L470.4,384.1 L471.9,383.8 L473.4,383.5 L474.9,383.3 L476.4,383.0 L477.9,382.8 L479.4,382.5 L480.9,382.3 L482.4,382.1 L483.9,381.9 L485.4,381.6 L486.9,381.4 L488.4,381.2 L489.9,381.0 L491.4,380.9 L492.9,380.7 L494.4,380.5 L495.9,380.4 L497.4,380.2 L498.9,380.1 L500.4,380.0 L501.9,379.9 L503.4,379.7 L504.9,379.6 L506.4,379.5 L507.9,379.4 L509.4,379.3 L510.9,379.2 L512.4,379.1 L513.9,379.0 L515.4,378.9 L516.9,378.8 L518.4,378.8 L519.9,378.7 L521.4,378.6 L522.9,378.6 L524.4,378.5 L525.9,378.5 L527.4,378.5 L528.9,378.4 L530.4,378.4 L531.9,378.4 L533.4,378.4 L534.9,378.4 L536.4,378.4 L537.9,378.5 L539.4,378.5 L540.9,378.5 L542.4,378.5 L543.9,378.5 L545.4,378.6 L546.9,378.6 L548.4,378.6 L549.9,378.7 L551.4,378.7 L552.9,378.7 L554.4,378.8 L555.9,378.8 L557.4,378.9 L558.9,378.9 L560.4,379.0 L561.9,379.1 L563.4,379.1 L564.9,379.2 L566.4,379.2 L567.9,379.3 L569.4,379.4 L570.9,379.4 L572.4,379.5 L573.9,379.6 L575.4,379.7 L576.9,379.9 L578.4,380.0 L579.9,380.2 L581.4,380.4 L582.9,380.6 L584.4,380.9 L585.9,381.1 L587.4,381.4 L588.9,381.7 L590.4,382.0 L591.9,382.4 L593.4,382.7 L594.9,383.1 L596.4,383.5 L597.9,383.8 L599.4,384.2 L600.9,384.6 L602.4,385.1 L603.9,385.5 L605.4,386.0 L606.9,386.5 L608.4,387.0 L609.9,387.6 L611.4,388.2 L612.9,388.8 L614.4,389.4 L615.9,390.0 L617.4,390.6 L618.9,391.1 L620.4,391.7 L621.9,392.3 L623.4,392.9 L624.9,393.5 L626.4,394.0 L627.9,394.6 L629.4,395.2 L630.9,395.8 L632.4,396.4 L633.9,397.0 L635.4,397.6 L636.9,398.2 L638.4,398.8 L639.9,399.5 L641.4,400.1 L642.9,400.8 L644.4,401.5 L645.9,402.2 L647.4,402.9 L648.9,403.6 L650.4,404.3 L651.9,405.1 L653.4,405.8 L654.9,406.5 L656.4,407.3 L657.9,408.0 L659.4,408.8 L660.9,409.5 L662.4,410.3 L663.9,411.0 L665.4,411.8 L666.9,412.6 L668.4,413.4 L669.9,414.1 L671.4,414.9 L672.9,415.5 L674.4,416.1 L675.9,416.7 L677.4,417.1 L678.9,417.5 L680.4,417.9 L681.9,418.1 L683.4,418.4 L684.9,418.6 L686.4,418.7 L687.9,418.9 L689.4,419.0 L690.9,419.2 L692.4,419.3 L693.9,419.4 L695.4,419.4 L696.9,419.5 L698.4,419.5 L699.9,419.4 L701.4,419.4 L702.9,419.2 L704.4,419.1 L705.9,418.9 L707.4,418.6 L708.9,418.3 L710.4,418.0 L711.9,417.6 L713.4,417.2 L714.9,416.8 L716.4,416.4 L717.9,416.1 L719.4,415.7 L720.9,415.4 L722.4,415.0 L723.9,414.8 L725.4,414.5 L726.9,414.4 L728.4,414.3 L729.9,414.2 L731.4,414.1 L732.9,414.2 L734.4,414.2 L735.9,414.3 L737.4,414.4 L738.9,414.5 L740.4,414.6 L741.9,414.7 L743.4,414.9 L744.9,415.0 L746.4,415.1 L747.9,415.3 L749.4,415.4 L750.9,415.5 L752.4,415.6 L753.9,415.7 L755.4,415.8 L756.9,415.8 L758.4,415.9 L759.9,415.9 L761.4,415.8 L762.9,415.7 L764.4,415.6 L765.9,415.5 L767.4,415.3 L768.9,415.1 L770.4,414.8 L771.9,414.6 L773.4,414.3 L774.9,414.0 L776.4,413.7 L777.9,413.4 L779.4,413.1 L780.9,412.8 L782.4,412.5 L783.9,412.2 L785.4,411.9 L786.9,411.5 L788.4,411.2 L789.9,410.8 L791.4,410.4 L792.9,410.0 L794.4,409.6 L795.9,409.2 L797.4,408.7 L798.9,408.2 L800.4,407.7 L801.9,407.1 L803.4,406.5 L804.9,405.9 L806.4,405.2 L807.9,404.6 L809.4,403.9 L810.9,403.2 L812.4,402.5 L813.9,401.8 L815.4,401.2 L816.9,400.7 L818.4,400.2 L819.9,399.7 L821.4,399.3 L822.9,399.0 L824.4,398.6 L825.9,398.3 L827.4,398.0 L828.9,397.8 L830.4,397.5 L831.9,397.3 L833.4,397.0 L834.9,396.8 L836.4,396.6 L837.9,396.4 L839.4,396.2 L840.9,396.1 L842.4,395.9 L843.9,395.7 L845.4,395.6 L846.9,395.5 L848.4,395.3 L849.9,395.2 L851.4,395.1 L852.9,395.0 L854.4,394.9 L855.9,394.8 L857.4,394.7 L858.9,394.6 L860.4,394.5 L861.9,394.4 L863.4,394.3 L864.9,394.2 L866.4,394.1 L867.9,394.1 L869.4,394.0 L870.9,393.9 L872.4,393.8 L873.9,393.7 L875.4,393.6 L876.9,393.5 L878.4,393.4 L879.9,393.2 L881.4,393.1 L882.9,392.9 L884.4,392.6 L885.9,392.3 L887.4,391.9 L888.9,391.5 L890.4,391.1 L891.9,390.6 L893.4,390.1 L894.9,389.7 L896.4,389.3 L897.9,388.9 L899.4,388.6 L900.9,388.3 L902.4,388.1 L903.9,387.9 L905.4,387.7 L906.9,387.5 L908.4,387.3 L909.9,387.2 L911.4,387.0 L912.9,386.9 L914.4,386.7 L915.9,386.6 L917.4,386.5 L918.9,386.4 L920.4,386.3 L921.9,386.2 L923.4,386.1 L924.9,386.1 L926.4,386.1 L927.9,386.0 L929.4,386.0 L930.9,386.0 L932.4,386.0 L933.9,386.0 L935.4,386.0 L936.9,386.0 L938.4,386.0 L939.9,386.0 L941.4,386.0 L942.9,386.0 L944.4,386.0 L945.9,386.0 L947.4,386.0 L948.9,386.0 L950.4,386.1 L951.9,386.1 L953.4,386.1 L954.9,386.1 L956.4,386.1 L957.9,386.1 L959.4,386.1 L960.9,386.2 L962.4,386.2 L962.9,386.2" stroke="#2d9a8c" stroke-width="1.7" fill="none" stroke-linejoin="round"/>
<path d="M14.4,334.6 L15.9,334.7 L17.4,334.8 L18.9,335.0 L20.4,335.1 L21.9,335.2 L23.4,335.3 L24.9,335.4 L26.4,335.6 L27.9,335.7 L29.4,335.8 L30.9,335.9 L32.4,336.0 L33.9,336.1 L35.4,336.2 L36.9,336.3 L38.4,336.4 L39.9,336.5 L41.4,336.6 L42.9,336.7 L44.4,336.7 L45.9,336.8 L47.4,336.9 L48.9,337.0 L50.4,337.1 L51.9,337.1 L53.4,337.2 L54.9,337.3 L56.4,337.4 L57.9,337.4 L59.4,337.5 L60.9,337.6 L62.4,337.6 L63.9,337.7 L65.4,337.8 L66.9,337.8 L68.4,337.9 L69.9,338.0 L71.4,338.0 L72.9,338.1 L74.4,338.2 L75.9,338.2 L77.4,338.3 L78.9,338.3 L80.4,338.4 L81.9,338.5 L83.4,338.5 L84.9,338.6 L86.4,338.6 L87.9,338.7 L89.4,338.8 L90.9,338.8 L92.4,338.9 L93.9,338.9 L95.4,339.0 L96.9,339.1 L98.4,339.1 L99.9,339.2 L101.4,339.2 L102.9,339.3 L104.4,339.4 L105.9,339.4 L107.4,339.5 L108.9,339.6 L110.4,339.6 L111.9,339.7 L113.4,339.7 L114.9,339.8 L116.4,339.9 L117.9,339.9 L119.4,340.0 L120.9,340.1 L122.4,340.1 L123.9,340.2 L125.4,340.3 L126.9,340.3 L128.4,340.4 L129.9,340.5 L131.4,340.5 L132.9,340.6 L134.4,340.7 L135.9,340.7 L137.4,340.8 L138.9,340.9 L140.4,340.9 L141.9,341.0 L143.4,341.1 L144.9,341.1 L146.4,341.2 L147.9,341.3 L149.4,341.3 L150.9,341.4 L152.4,341.5 L153.9,341.5 L155.4,341.6 L156.9,341.7 L158.4,341.7 L159.9,341.8 L161.4,341.9 L162.9,342.0 L164.4,342.0 L165.9,342.1 L167.4,342.2 L168.9,342.2 L170.4,342.3 L171.9,342.4 L173.4,342.4 L174.9,342.5 L176.4,342.6 L177.9,342.6 L179.4,342.7 L180.9,342.8 L182.4,342.8 L183.9,342.9 L185.4,343.0 L186.9,343.0 L188.4,343.1 L189.9,343.2 L191.4,343.3 L192.9,343.3 L194.4,343.4 L195.9,343.5 L197.4,343.5 L198.9,343.6 L200.4,343.7 L201.9,343.8 L203.4,343.8 L204.9,343.9 L206.4,344.0 L207.9,344.1 L209.4,344.1 L210.9,344.2 L212.4,344.3 L213.9,344.4 L215.4,344.4 L216.9,344.5 L218.4,344.6 L219.9,344.7 L221.4,344.7 L222.9,344.8 L224.4,344.9 L225.9,345.0 L227.4,345.1 L228.9,345.1 L230.4,345.2 L231.9,345.3 L233.4,345.4 L234.9,345.5 L236.4,345.5 L237.9,345.6 L239.4,345.7 L240.9,345.8 L242.4,345.9 L243.9,346.0 L245.4,346.1 L246.9,346.1 L248.4,346.2 L249.9,346.3 L251.4,346.4 L252.9,346.5 L254.4,346.6 L255.9,346.7 L257.4,346.8 L258.9,346.9 L260.4,346.9 L261.9,347.0 L263.4,347.1 L264.9,347.2 L266.4,347.3 L267.9,347.4 L269.4,347.5 L270.9,347.6 L272.4,347.7 L273.9,347.8 L275.4,347.9 L276.9,348.0 L278.4,348.0 L279.9,348.1 L281.4,348.2 L282.9,348.3 L284.4,348.4 L285.9,348.5 L287.4,348.6 L288.9,348.7 L290.4,348.8 L291.9,348.9 L293.4,349.0 L294.9,349.1 L296.4,349.2 L297.9,349.3 L299.4,349.4 L300.9,349.5 L302.4,349.6 L303.9,349.7 L305.4,349.8 L306.9,349.9 L308.4,349.9 L309.9,350.0 L311.4,350.1 L312.9,350.2 L314.4,350.3 L315.9,350.4 L317.4,350.5 L318.9,350.6 L320.4,350.7 L321.9,350.8 L323.4,350.9 L324.9,351.0 L326.4,351.2 L327.9,351.3 L329.4,351.4 L330.9,351.5 L332.4,351.6 L333.9,351.7 L335.4,351.8 L336.9,351.9 L338.4,352.0 L339.9,352.1 L341.4,352.2 L342.9,352.3 L344.4,352.3 L345.9,352.4 L347.4,352.5 L348.9,352.6 L350.4,352.7 L351.9,352.8 L353.4,353.0 L354.9,353.1 L356.4,353.2 L357.9,353.3 L359.4,353.4 L360.9,353.5 L362.4,353.6 L363.9,353.8 L365.4,353.9 L366.9,354.0 L368.4,354.2 L369.9,354.3 L371.4,354.5 L372.9,354.6 L374.4,354.8 L375.9,355.0 L377.4,355.1 L378.9,355.3 L380.4,355.5 L381.9,355.8 L383.4,356.0 L384.9,356.2 L386.4,356.5 L387.9,356.7 L389.4,357.0 L390.9,357.3 L392.4,357.5 L393.9,357.8 L395.4,358.1 L396.9,358.4 L398.4,358.7 L399.9,359.1 L401.4,359.4 L402.9,359.7 L404.4,360.0 L405.9,360.3 L407.4,360.7 L408.9,361.0 L410.4,361.3 L411.9,361.7 L413.4,362.0 L414.9,362.3 L416.4,362.7 L417.9,363.0 L419.4,363.3 L420.9,363.7 L422.4,364.0 L423.9,364.3 L425.4,364.7 L426.9,365.0 L428.4,365.3 L429.9,365.6 L431.4,366.0 L432.9,366.3 L434.4,366.7 L435.9,367.0 L437.4,367.3 L438.9,367.6 L440.4,368.0 L441.9,368.3 L443.4,368.6 L444.9,368.9 L446.4,369.2 L447.9,369.4 L449.4,369.7 L450.9,370.0 L452.4,370.3 L453.9,370.5 L455.4,370.8 L456.9,371.1 L458.4,371.3 L459.9,371.6 L461.4,371.8 L462.9,372.1 L464.4,372.4 L465.9,372.6 L467.4,372.9 L468.9,373.1 L470.4,373.4 L471.9,373.6 L473.4,373.9 L474.9,374.2 L476.4,374.4 L477.9,374.7 L479.4,374.9 L480.9,375.2 L482.4,375.5 L483.9,375.8 L485.4,376.0 L486.9,376.3 L488.4,376.6 L489.9,376.9 L491.4,377.2 L492.9,377.5 L494.4,377.8 L495.9,378.1 L497.4,378.5 L498.9,378.8 L500.4,379.2 L501.9,379.5 L503.4,379.9 L504.9,380.3 L506.4,380.7 L507.9,381.1 L509.4,381.5 L510.9,381.8 L512.4,382.2 L513.9,382.5 L515.4,382.7 L516.9,383.0 L518.4,383.2 L519.9,383.4 L521.4,383.6 L522.9,383.8 L524.4,384.0 L525.9,384.2 L527.4,384.4 L528.9,384.5 L530.4,384.7 L531.9,384.9 L533.4,385.0 L534.9,385.2 L536.4,385.3 L537.9,385.4 L539.4,385.6 L540.9,385.7 L542.4,385.8 L543.9,386.0 L545.4,386.1 L546.9,386.2 L548.4,386.4 L549.9,386.5 L551.4,386.6 L552.9,386.7 L554.4,386.9 L555.9,387.0 L557.4,387.1 L558.9,387.2 L560.4,387.3 L561.9,387.4 L563.4,387.5 L564.9,387.6 L566.4,387.7 L567.9,387.8 L569.4,387.9 L570.9,388.0 L572.4,388.1 L573.9,388.2 L575.4,388.2 L576.9,388.3 L578.4,388.3 L579.9,388.4 L581.4,388.4 L582.9,388.5 L584.4,388.5 L585.9,388.6 L587.4,388.6 L588.9,388.6 L590.4,388.7 L591.9,388.7 L593.4,388.8 L594.9,388.8 L596.4,388.8 L597.9,388.9 L599.4,388.9 L600.9,389.0 L602.4,389.0 L603.9,389.1 L605.4,389.1 L606.9,389.2 L608.4,389.3 L609.9,389.3 L611.4,389.4 L612.9,389.5 L614.4,389.6 L615.9,389.8 L617.4,389.9 L618.9,390.0 L620.4,390.2 L621.9,390.4 L623.4,390.5 L624.9,390.7 L626.4,390.9 L627.9,391.1 L629.4,391.3 L630.9,391.5 L632.4,391.6 L633.9,391.8 L635.4,392.0 L636.9,392.2 L638.4,392.3 L639.9,392.5 L641.4,392.6 L642.9,392.8 L644.4,392.9 L645.9,393.1 L647.4,393.2 L648.9,393.3 L650.4,393.5 L651.9,393.6 L653.4,393.7 L654.9,393.9 L656.4,394.0 L657.9,394.1 L659.4,394.2 L660.9,394.4 L662.4,394.5 L663.9,394.6 L665.4,394.7 L666.9,394.9 L668.4,395.0 L669.9,395.1 L671.4,395.2 L672.9,395.4 L674.4,395.5 L675.9,395.6 L677.4,395.7 L678.9,395.9 L680.4,396.0 L681.9,396.1 L683.4,396.3 L684.9,396.4 L686.4,396.5 L687.9,396.6 L689.4,396.7 L690.9,396.8 L692.4,396.9 L693.9,396.9 L695.4,397.0 L696.9,397.1 L698.4,397.1 L699.9,397.2 L701.4,397.2 L702.9,397.3 L704.4,397.3 L705.9,397.4 L707.4,397.4 L708.9,397.5 L710.4,397.5 L711.9,397.6 L713.4,397.6 L714.9,397.6 L716.4,397.7 L717.9,397.7 L719.4,397.7 L720.9,397.8 L722.4,397.8 L723.9,397.8 L725.4,397.9 L726.9,397.9 L728.4,397.9 L729.9,397.9 L731.4,397.9 L732.9,398.0 L734.4,398.0 L735.9,398.0 L737.4,398.0 L738.9,398.0 L740.4,398.0 L741.9,397.9 L743.4,397.9 L744.9,397.9 L746.4,397.8 L747.9,397.8 L749.4,397.7 L750.9,397.6 L752.4,397.5 L753.9,397.5 L755.4,397.4 L756.9,397.3 L758.4,397.2 L759.9,397.1 L761.4,397.1 L762.9,397.0 L764.4,396.9 L765.9,396.9 L767.4,396.9 L768.9,396.9 L770.4,396.9 L771.9,396.9 L773.4,396.9 L774.9,396.9 L776.4,397.0 L777.9,397.1 L779.4,397.1 L780.9,397.2 L782.4,397.3 L783.9,397.4 L785.4,397.6 L786.9,397.7 L788.4,397.8 L789.9,398.0 L791.4,398.1 L792.9,398.3 L794.4,398.4 L795.9,398.6 L797.4,398.8 L798.9,399.0 L800.4,399.2 L801.9,399.4 L803.4,399.7 L804.9,400.0 L806.4,400.3 L807.9,400.5 L809.4,400.8 L810.9,401.0 L812.4,401.2 L813.9,401.3 L815.4,401.3 L816.9,401.3 L818.4,401.3 L819.9,401.2 L821.4,401.2 L822.9,401.0 L824.4,400.9 L825.9,400.8 L827.4,400.6 L828.9,400.5 L830.4,400.3 L831.9,400.1 L833.4,399.9 L834.9,399.7 L836.4,399.5 L837.9,399.2 L839.4,399.0 L840.9,398.8 L842.4,398.5 L843.9,398.3 L845.4,398.0 L846.9,397.7 L848.4,397.4 L849.9,397.1 L851.4,396.7 L852.9,396.4 L854.4,396.0 L855.9,395.7 L857.4,395.3 L858.9,395.1 L860.4,394.9 L861.9,394.7 L863.4,394.5 L864.9,394.4 L866.4,394.4 L867.9,394.3 L869.4,394.2 L870.9,394.2 L872.4,394.2 L873.9,394.1 L875.4,394.1 L876.9,394.1 L878.4,394.1 L879.9,394.1 L881.4,394.1 L882.9,394.1 L884.4,394.2 L885.9,394.2 L887.4,394.4 L888.9,394.5 L890.4,394.7 L891.9,394.9 L893.4,395.2 L894.9,395.4 L896.4,395.6 L897.9,395.8 L899.4,396.0 L900.9,396.1 L902.4,396.3 L903.9,396.4 L905.4,396.5 L906.9,396.6 L908.4,396.7 L909.9,396.8 L911.4,396.8 L912.9,396.8 L914.4,396.8 L915.9,396.7 L917.4,396.6 L918.9,396.4 L920.4,396.2 L921.9,395.9 L923.4,395.6 L924.9,395.2 L926.4,394.9 L927.9,394.5 L929.4,394.1 L930.9,393.7 L932.4,393.2 L933.9,392.7 L935.4,392.2 L936.9,391.7 L938.4,391.1 L939.9,390.5 L941.4,390.0 L942.9,389.4 L944.4,388.8 L945.9,388.2 L947.4,387.6 L948.9,387.0 L950.4,386.4 L951.9,385.8 L953.4,385.2 L954.9,384.6 L956.4,384.0 L957.9,383.3 L959.4,382.7 L960.9,382.0 L962.4,381.4 L962.9,381.2" stroke="#383838" stroke-width="1.7" fill="none" stroke-linejoin="round"/>
<path d="M468.0,430.0 L469.5,430.0 L471.0,430.0 L472.5,430.0 L474.0,430.0 L475.5,430.0 L477.0,429.9 L478.5,429.9 L480.0,429.9 L481.5,429.9 L483.0,429.9 L484.5,429.8 L486.0,429.8 L487.5,429.8 L489.0,429.8 L490.5,429.7 L492.0,429.7 L493.5,429.7 L495.0,429.6 L496.5,429.6 L498.0,429.6 L499.5,429.5 L501.0,429.5 L502.5,429.5 L504.0,429.4 L505.5,429.4 L507.0,429.4 L508.5,429.3 L510.0,429.3 L511.5,429.2 L513.0,429.2 L514.5,429.2 L516.0,429.1 L517.5,429.1 L519.0,429.0 L520.5,429.0 L522.0,428.9 L523.5,428.9 L525.0,428.8 L526.5,428.8 L528.0,428.7 L529.5,428.7 L531.0,428.6 L532.5,428.5 L534.0,428.5 L535.5,428.4 L537.0,428.3 L538.5,428.3 L540.0,428.2 L541.5,428.1 L543.0,428.0 L544.5,428.0 L546.0,427.9 L547.5,427.8 L549.0,427.7 L550.5,427.6 L552.0,427.5 L553.5,427.4 L555.0,427.3 L556.5,427.2 L558.0,427.1 L559.5,427.0 L561.0,426.9 L562.5,426.8 L564.0,426.7 L565.5,426.6 L567.0,426.5 L568.5,426.3 L570.0,426.2 L571.5,426.1 L573.0,425.9 L574.5,425.8 L576.0,425.6 L577.5,425.5 L579.0,425.3 L580.5,425.2 L582.0,425.0 L583.5,424.8 L585.0,424.6 L586.5,424.4 L588.0,424.2 L589.5,424.0 L591.0,423.8 L592.5,423.5 L594.0,423.2 L595.5,422.9 L597.0,422.6 L598.5,422.3 L600.0,422.0 L601.5,421.6 L603.0,421.3 L604.5,421.0 L606.0,420.7 L607.5,420.5 L609.0,420.2 L610.5,420.0 L612.0,419.8 L613.5,419.6 L615.0,419.5 L616.5,419.3 L618.0,419.1 L619.5,419.0 L621.0,418.9 L622.5,418.8 L624.0,418.7 L625.5,418.6 L627.0,418.5 L628.5,418.5 L630.0,418.5 L631.5,418.5 L633.0,418.5 L634.5,418.5 L636.0,418.5 L637.5,418.6 L639.0,418.6 L640.5,418.7 L642.0,418.8 L643.5,418.8 L645.0,418.9 L646.5,419.0 L648.0,419.1 L649.5,419.2 L651.0,419.3 L652.5,419.3 L654.0,419.4 L655.5,419.5 L657.0,419.6 L658.5,419.7 L660.0,419.7 L661.5,419.8 L663.0,419.8 L664.5,419.9 L666.0,419.9 L667.5,419.9 L669.0,419.9 L670.5,419.9 L672.0,419.9 L673.5,419.9 L675.0,419.8 L676.5,419.7 L678.0,419.6 L679.5,419.5 L681.0,419.4 L682.5,419.2 L684.0,419.1 L685.5,419.0 L687.0,418.8 L688.5,418.7 L690.0,418.6 L691.5,418.4 L693.0,418.3 L694.5,418.2 L696.0,418.2 L697.5,418.1 L699.0,418.1 L700.5,418.1 L702.0,418.1 L703.5,418.1 L705.0,418.1 L706.5,418.2 L708.0,418.2 L709.5,418.3 L711.0,418.3 L712.5,418.4 L714.0,418.5 L715.5,418.5 L717.0,418.6 L718.5,418.7 L720.0,418.7 L721.5,418.8 L723.0,418.8 L724.5,418.9 L726.0,418.9 L727.5,418.9 L729.0,419.0 L730.5,419.0 L732.0,419.0 L733.5,419.0 L735.0,419.0 L736.5,419.0 L738.0,419.0 L739.5,419.0 L741.0,419.0 L742.5,419.0 L744.0,419.0 L745.5,419.0 L747.0,419.0 L748.5,419.0 L750.0,419.0 L751.5,419.0 L753.0,419.0 L754.5,419.0 L756.0,419.0 L757.5,419.0 L759.0,418.9 L760.5,418.8 L762.0,418.7 L763.5,418.6 L765.0,418.3 L766.5,418.1 L768.0,417.8 L769.5,417.4 L771.0,417.0 L772.5,416.6 L774.0,416.1 L775.5,415.6 L777.0,415.2 L778.5,414.7 L780.0,414.2 L781.5,413.8 L783.0,413.3 L784.5,412.9 L786.0,412.4 L787.5,412.0 L789.0,411.6 L790.5,411.1 L792.0,410.7 L793.5,410.3 L795.0,409.9 L796.5,409.5 L798.0,409.1 L799.5,408.7 L801.0,408.3 L802.5,408.0 L804.0,407.6 L805.5,407.3 L807.0,407.0 L808.5,406.6 L810.0,406.3 L811.5,406.0 L813.0,405.8 L814.5,405.5 L816.0,405.2 L817.5,404.9 L819.0,404.7 L820.5,404.4 L822.0,404.2 L823.5,403.9 L825.0,403.7 L826.5,403.5 L828.0,403.2 L829.5,403.0 L831.0,402.8 L832.5,402.6 L834.0,402.4 L835.5,402.2 L837.0,402.1 L838.5,402.0 L840.0,401.8 L841.5,401.7 L843.0,401.7 L844.5,401.6 L846.0,401.5 L847.5,401.4 L849.0,401.3 L850.5,401.3 L852.0,401.2 L853.5,401.2 L855.0,401.1 L856.5,401.1 L858.0,401.1 L859.5,401.1 L861.0,401.1 L862.5,401.1 L864.0,401.1 L865.5,401.2 L867.0,401.2 L868.5,401.3 L870.0,401.4 L871.5,401.6 L873.0,401.7 L874.5,401.9 L876.0,402.1 L877.5,402.3 L879.0,402.5 L880.5,402.7 L882.0,403.0 L883.5,403.3 L885.0,403.6 L886.5,403.9 L888.0,404.3 L889.5,404.8 L891.0,405.2 L892.5,405.7 L894.0,406.2 L895.5,406.6 L897.0,407.1 L898.5,407.4 L900.0,407.8 L901.5,408.1 L903.0,408.5 L904.5,408.7 L906.0,409.0 L907.5,409.2 L909.0,409.4 L910.5,409.6 L912.0,409.7 L913.5,409.8 L915.0,409.8 L916.5,409.9 L918.0,409.9 L919.5,409.9 L921.0,409.9 L922.5,409.9 L924.0,409.9 L925.5,409.9 L927.0,409.8 L928.5,409.7 L930.0,409.6 L931.5,409.4 L933.0,409.2 L934.5,408.9 L936.0,408.6 L937.5,408.3 L939.0,408.0 L940.5,407.6 L942.0,407.3 L943.5,407.0 L945.0,406.7 L946.5,406.4 L948.0,406.1 L949.5,405.8 L951.0,405.6 L952.5,405.3 L954.0,405.1 L955.5,404.8 L957.0,404.6 L958.5,404.4 L960.0,404.1 L961.5,403.9 L963.0,403.7" stroke="#f048ee" stroke-width="1.7" fill="none" stroke-linejoin="round"/>
<path d="M727.0,441.6 L728.5,441.1 L730.0,440.6 L731.5,440.1 L733.0,439.6 L734.5,439.0 L736.0,438.5 L737.5,438.0 L739.0,437.6 L740.5,437.1 L742.0,436.6 L743.5,436.1 L745.0,435.6 L746.5,435.1 L748.0,434.6 L749.5,434.2 L751.0,433.7 L752.5,433.2 L754.0,432.7 L755.5,432.2 L757.0,431.7 L758.5,431.3 L760.0,430.8 L761.5,430.3 L763.0,429.9 L764.5,429.5 L766.0,429.1 L767.5,428.7 L769.0,428.3 L770.5,428.0 L772.0,427.6 L773.5,427.3 L775.0,427.0 L776.5,426.8 L778.0,426.5 L779.5,426.2 L781.0,426.0 L782.5,425.7 L784.0,425.5 L785.5,425.3 L787.0,425.0 L788.5,424.8 L790.0,424.6 L791.5,424.3 L793.0,424.1 L794.5,423.9 L796.0,423.6 L797.5,423.4 L799.0,423.2 L800.5,422.9 L802.0,422.7 L803.5,422.4 L805.0,422.2 L806.5,421.9 L808.0,421.6 L809.5,421.4 L811.0,421.1 L812.5,420.9 L814.0,420.6 L815.5,420.3 L817.0,420.0 L818.5,419.7 L820.0,419.4 L821.5,419.1 L823.0,418.7 L824.5,418.3 L826.0,417.9 L827.5,417.5 L829.0,417.1 L830.5,416.7 L832.0,416.3 L833.5,416.0 L835.0,415.7 L836.5,415.5 L838.0,415.3 L839.5,415.2 L841.0,415.1 L842.5,415.1 L844.0,415.1 L845.5,415.1 L847.0,415.2 L848.5,415.2 L850.0,415.2 L851.5,415.3 L853.0,415.4 L854.5,415.4 L856.0,415.5 L857.5,415.6 L859.0,415.7 L860.5,415.7 L862.0,415.8 L863.5,415.9 L865.0,416.0 L866.5,416.1 L868.0,416.2 L869.5,416.4 L871.0,416.5 L872.5,416.6 L874.0,416.7 L875.5,416.9 L877.0,417.0 L878.5,417.0 L880.0,417.1 L881.5,417.1 L883.0,417.1 L884.5,417.1 L886.0,417.0 L887.5,416.8 L889.0,416.6 L890.5,416.3 L892.0,416.0 L893.5,415.7 L895.0,415.3 L896.5,414.9 L898.0,414.5 L899.5,414.1 L901.0,413.7 L902.5,413.3 L904.0,412.9 L905.5,412.4 L907.0,412.0 L908.5,411.5 L910.0,411.1 L911.5,410.6 L913.0,410.2 L914.5,409.8 L916.0,409.4 L917.5,409.0 L919.0,408.7 L920.5,408.3 L922.0,408.0 L923.5,407.6 L925.0,407.3 L926.5,407.0 L928.0,406.8 L929.5,406.5 L931.0,406.3 L932.5,406.0 L934.0,405.8 L935.5,405.6 L937.0,405.4 L938.5,405.3 L940.0,405.1 L941.5,404.9 L943.0,404.8 L944.5,404.6 L946.0,404.5 L947.5,404.3 L949.0,404.2 L950.5,404.1 L952.0,403.9 L953.5,403.8 L955.0,403.7 L956.5,403.6 L958.0,403.5 L959.5,403.4 L961.0,403.3 L962.5,403.2 L963.0,403.2" stroke="#e04e84" stroke-width="1.7" fill="none" stroke-linejoin="round"/>
<path d="M14.4,191.0 L15.9,191.2 L17.4,191.4 L18.9,191.6 L20.4,191.9 L21.9,192.1 L23.4,192.3 L24.9,192.5 L26.4,192.7 L27.9,192.8 L29.4,193.0 L30.9,193.2 L32.4,193.3 L33.9,193.5 L35.4,193.6 L36.9,193.7 L38.4,193.8 L39.9,193.8 L41.4,193.9 L42.9,194.0 L44.4,194.0 L45.9,194.1 L47.4,194.1 L48.9,194.2 L50.4,194.2 L51.9,194.3 L53.4,194.3 L54.9,194.4 L56.4,194.4 L57.9,194.5 L59.4,194.5 L60.9,194.5 L62.4,194.6 L63.9,194.6 L65.4,194.6 L66.9,194.7 L68.4,194.7 L69.9,194.7 L71.4,194.8 L72.9,194.8 L74.4,194.8 L75.9,194.9 L77.4,194.9 L78.9,194.9 L80.4,194.9 L81.9,195.0 L83.4,195.0 L84.9,195.0 L86.4,195.0 L87.9,195.1 L89.4,195.1 L90.9,195.1 L92.4,195.1 L93.9,195.2 L95.4,195.2 L96.9,195.2 L98.4,195.2 L99.9,195.2 L101.4,195.3 L102.9,195.3 L104.4,195.3 L105.9,195.3 L107.4,195.4 L108.9,195.4 L110.4,195.4 L111.9,195.4 L113.4,195.5 L114.9,195.5 L116.4,195.5 L117.9,195.6 L119.4,195.6 L120.9,195.6 L122.4,195.6 L123.9,195.7 L125.4,195.7 L126.9,195.7 L128.4,195.8 L129.9,195.8 L131.4,195.8 L132.9,195.9 L134.4,195.9 L135.9,195.9 L137.4,195.9 L138.9,196.0 L140.4,196.0 L141.9,196.0 L143.4,196.0 L144.9,196.1 L146.4,196.1 L147.9,196.1 L149.4,196.2 L150.9,196.2 L152.4,196.2 L153.9,196.2 L155.4,196.3 L156.9,196.3 L158.4,196.3 L159.9,196.4 L161.4,196.4 L162.9,196.4 L164.4,196.5 L165.9,196.5 L167.4,196.5 L168.9,196.6 L170.4,196.6 L171.9,196.6 L173.4,196.7 L174.9,196.7 L176.4,196.7 L177.9,196.8 L179.4,196.8 L180.9,196.8 L182.4,196.9 L183.9,196.9 L185.4,196.9 L186.9,197.0 L188.4,197.0 L189.9,197.0 L191.4,197.1 L192.9,197.1 L194.4,197.2 L195.9,197.2 L197.4,197.2 L198.9,197.3 L200.4,197.3 L201.9,197.4 L203.4,197.4 L204.9,197.5 L206.4,197.5 L207.9,197.6 L209.4,197.6 L210.9,197.7 L212.4,197.7 L213.9,197.8 L215.4,197.8 L216.9,197.9 L218.4,198.0 L219.9,198.1 L221.4,198.1 L222.9,198.2 L224.4,198.3 L225.9,198.4 L227.4,198.6 L228.9,198.7 L230.4,198.9 L231.9,199.1 L233.4,199.3 L234.9,199.6 L236.4,199.9 L237.9,200.2 L239.4,200.5 L240.9,200.9 L242.4,201.2 L243.9,201.6 L245.4,202.0 L246.9,202.4 L248.4,202.8 L249.9,203.2 L251.4,203.6 L252.9,204.0 L254.4,204.5 L255.9,204.9 L257.4,205.3 L258.9,205.7 L260.4,206.2 L261.9,206.6 L263.4,207.1 L264.9,207.5 L266.4,208.0 L267.9,208.5 L269.4,209.0 L270.9,209.5 L272.4,210.0 L273.9,210.5 L275.4,211.0 L276.9,211.5 L278.4,212.0 L279.9,212.5 L281.4,213.0 L282.9,213.5 L284.4,214.0 L285.9,214.5 L287.4,215.0 L288.9,215.5 L290.4,216.0 L291.9,216.5 L293.4,217.0 L294.9,217.5 L296.4,218.0 L297.9,218.5 L299.4,218.9 L300.9,219.4 L302.4,219.9 L303.9,220.3 L305.4,220.8 L306.9,221.2 L308.4,221.7 L309.9,222.1 L311.4,222.5 L312.9,222.9 L314.4,223.3 L315.9,223.7 L317.4,224.1 L318.9,224.5 L320.4,224.9 L321.9,225.3 L323.4,225.7 L324.9,226.1 L326.4,226.5 L327.9,226.9 L329.4,227.3 L330.9,227.7 L332.4,228.1 L333.9,228.5 L335.4,228.9 L336.9,229.3 L338.4,229.7 L339.9,230.1 L341.4,230.5 L342.9,230.9 L344.4,231.3 L345.9,231.7 L347.4,232.1 L348.9,232.5 L350.4,232.9 L351.9,233.3 L353.4,233.7 L354.9,234.1 L356.4,234.5 L357.9,234.8 L359.4,235.2 L360.9,235.6 L362.4,236.0 L363.9,236.3 L365.4,236.7 L366.9,237.0 L368.4,237.4 L369.9,237.7 L371.4,238.1 L372.9,238.4 L374.4,238.8 L375.9,239.1 L377.4,239.4 L378.9,239.8 L380.4,240.1 L381.9,240.4 L383.4,240.7 L384.9,241.0 L386.4,241.3 L387.9,241.6 L389.4,241.9 L390.9,242.2 L392.4,242.5 L393.9,242.8 L395.4,243.1 L396.9,243.4 L398.4,243.7 L399.9,244.0 L401.4,244.2 L402.9,244.5 L404.4,244.8 L405.9,245.1 L407.4,245.4 L408.9,245.7 L410.4,246.0 L411.9,246.2 L413.4,246.5 L414.9,246.8 L416.4,247.1 L417.9,247.4 L419.4,247.7 L420.9,248.0 L422.4,248.3 L423.9,248.6 L425.4,248.9 L426.9,249.2 L428.4,249.5 L429.9,249.8 L431.4,250.1 L432.9,250.4 L434.4,250.7 L435.9,251.0 L437.4,251.3 L438.9,251.6 L440.4,251.9 L441.9,252.2 L443.4,252.5 L444.9,252.8 L446.4,253.1 L447.9,253.4 L449.4,253.7 L450.9,254.0 L452.4,254.3 L453.9,254.6 L455.4,254.9 L456.9,255.3 L458.4,255.6 L459.9,255.9 L461.4,256.3 L462.9,256.7 L464.4,257.0 L465.9,257.4 L467.4,257.8 L468.9,258.3 L470.4,258.7 L471.9,259.2 L473.4,259.7 L474.9,260.3 L476.4,260.8 L477.9,261.4 L479.4,262.0 L480.9,262.6 L482.4,263.2 L483.9,263.8 L485.4,264.3 L486.9,264.9 L488.4,265.4 L489.9,265.9 L491.4,266.3 L492.9,266.7 L494.4,267.0 L495.9,267.3 L497.4,267.6 L498.9,267.7 L500.4,267.9 L501.9,268.0 L503.4,268.1 L504.9,268.1 L506.4,268.2 L507.9,268.2 L509.4,268.3 L510.9,268.3 L512.4,268.3 L513.9,268.4 L515.4,268.4 L516.9,268.4 L518.4,268.4 L519.9,268.4 L521.4,268.5 L522.9,268.5 L524.4,268.5 L525.9,268.5 L527.4,268.5 L528.9,268.6 L530.4,268.6 L531.9,268.6 L533.4,268.6 L534.9,268.7 L536.4,268.7 L537.9,268.7 L539.4,268.8 L540.9,268.8 L542.4,268.9 L543.9,269.0 L545.4,269.1 L546.9,269.2 L548.4,269.3 L549.9,269.5 L551.4,269.7 L552.9,269.9 L554.4,270.1 L555.9,270.3 L557.4,270.6 L558.9,270.8 L560.4,271.1 L561.9,271.4 L563.4,271.7 L564.9,272.0 L566.4,272.3 L567.9,272.6 L569.4,272.9 L570.9,273.1 L572.4,273.4 L573.9,273.8 L575.4,274.1 L576.9,274.4 L578.4,274.7 L579.9,275.1 L581.4,275.4 L582.9,275.8 L584.4,276.1 L585.9,276.4 L587.4,276.7 L588.9,276.8 L590.4,277.0 L591.9,277.1 L593.4,277.1 L594.9,277.0 L596.4,276.9 L597.9,276.8 L599.4,276.6 L600.9,276.4 L602.4,276.2 L603.9,275.9 L605.4,275.7 L606.9,275.4 L608.4,275.1 L609.9,274.9 L611.4,274.7 L612.9,274.5 L614.4,274.3 L615.9,274.1 L617.4,274.0 L618.9,274.0 L620.4,273.9 L621.9,273.9 L623.4,273.9 L624.9,274.0 L626.4,274.0 L627.9,274.1 L629.4,274.2 L630.9,274.4 L632.4,274.5 L633.9,274.6 L635.4,274.8 L636.9,275.0 L638.4,275.2 L639.9,275.4 L641.4,275.7 L642.9,276.1 L644.4,276.5 L645.9,277.0 L647.4,277.5 L648.9,278.1 L650.4,278.8 L651.9,279.4 L653.4,280.1 L654.9,280.8 L656.4,281.5 L657.9,282.1 L659.4,282.8 L660.9,283.4 L662.4,284.0 L663.9,284.6 L665.4,285.2 L666.9,285.8 L668.4,286.3 L669.9,286.9 L671.4,287.5 L672.9,288.0 L674.4,288.5 L675.9,289.0 L677.4,289.5 L678.9,290.0 L680.4,290.4 L681.9,290.8 L683.4,291.2 L684.9,291.6 L686.4,291.9 L687.9,292.3 L689.4,292.6 L690.9,292.9 L692.4,293.3 L693.9,293.6 L695.4,293.8 L696.9,294.1 L698.4,294.3 L699.9,294.5 L701.4,294.7 L702.9,294.8 L704.4,294.8 L705.9,294.8 L707.4,294.8 L708.9,294.6 L710.4,294.4 L711.9,294.2 L713.4,293.8 L714.9,293.4 L716.4,293.0 L717.9,292.6 L719.4,292.1 L720.9,291.6 L722.4,291.2 L723.9,290.7 L725.4,290.3 L726.9,290.0 L728.4,289.7 L729.9,289.4 L731.4,289.1 L732.9,288.9 L734.4,288.7 L735.9,288.5 L737.4,288.4 L738.9,288.2 L740.4,288.0 L741.9,287.9 L743.4,287.8 L744.9,287.6 L746.4,287.5 L747.9,287.4 L749.4,287.3 L750.9,287.2 L752.4,287.2 L753.9,287.1 L755.4,287.1 L756.9,287.1 L758.4,287.1 L759.9,287.2 L761.4,287.3 L762.9,287.5 L764.4,287.6 L765.9,287.8 L767.4,288.1 L768.9,288.3 L770.4,288.6 L771.9,288.9 L773.4,289.2 L774.9,289.5 L776.4,289.8 L777.9,290.2 L779.4,290.5 L780.9,290.8 L782.4,291.0 L783.9,291.3 L785.4,291.6 L786.9,291.8 L788.4,292.0 L789.9,292.1 L791.4,292.2 L792.9,292.3 L794.4,292.3 L795.9,292.3 L797.4,292.3 L798.9,292.2 L800.4,292.1 L801.9,291.9 L803.4,291.8 L804.9,291.6 L806.4,291.5 L807.9,291.4 L809.4,291.3 L810.9,291.2 L812.4,291.2 L813.9,291.2 L815.4,291.3 L816.9,291.4 L818.4,291.5 L819.9,291.7 L821.4,292.0 L822.9,292.3 L824.4,292.6 L825.9,293.0 L827.4,293.4 L828.9,293.8 L830.4,294.3 L831.9,294.8 L833.4,295.2 L834.9,295.7 L836.4,296.3 L837.9,296.8 L839.4,297.3 L840.9,297.8 L842.4,298.4 L843.9,299.0 L845.4,299.6 L846.9,300.2 L848.4,300.9 L849.9,301.6 L851.4,302.3 L852.9,303.1 L854.4,303.9 L855.9,304.7 L857.4,305.5 L858.9,306.2 L860.4,307.0 L861.9,307.8 L863.4,308.5 L864.9,309.2 L866.4,309.9 L867.9,310.6 L869.4,311.3 L870.9,311.9 L872.4,312.5 L873.9,313.2 L875.4,313.8 L876.9,314.4 L878.4,315.0 L879.9,315.5 L881.4,316.1 L882.9,316.6 L884.4,317.1 L885.9,317.5 L887.4,317.9 L888.9,318.3 L890.4,318.7 L891.9,319.1 L893.4,319.4 L894.9,319.7 L896.4,320.1 L897.9,320.3 L899.4,320.6 L900.9,320.8 L902.4,321.0 L903.9,321.2 L905.4,321.3 L906.9,321.3 L908.4,321.2 L909.9,321.1 L911.4,320.9 L912.9,320.5 L914.4,320.1 L915.9,319.6 L917.4,319.1 L918.9,318.5 L920.4,317.8 L921.9,317.2 L923.4,316.5 L924.9,315.9 L926.4,315.3 L927.9,314.7 L929.4,314.1 L930.9,313.6 L932.4,313.0 L933.9,312.4 L935.4,311.9 L936.9,311.3 L938.4,310.8 L939.9,310.2 L941.4,309.6 L942.9,309.1 L944.4,308.5 L945.9,307.9 L947.4,307.3 L948.9,306.8 L950.4,306.2 L951.9,305.6 L953.4,305.0 L954.9,304.4 L956.4,303.8 L957.9,303.2 L959.4,302.6 L960.9,302.1 L962.4,301.5 L962.9,301.3" stroke="#e24e56" stroke-width="1.7" fill="none" stroke-linejoin="round"/>
<path d="M14.4,202.9 L15.9,202.8 L17.4,202.7 L18.9,202.5 L20.4,202.4 L21.9,202.2 L23.4,202.1 L24.9,202.0 L26.4,201.9 L27.9,201.8 L29.4,201.7 L30.9,201.6 L32.4,201.5 L33.9,201.4 L35.4,201.4 L36.9,201.4 L38.4,201.3 L39.9,201.3 L41.4,201.4 L42.9,201.4 L44.4,201.4 L45.9,201.4 L47.4,201.5 L48.9,201.5 L50.4,201.6 L51.9,201.7 L53.4,201.7 L54.9,201.8 L56.4,201.9 L57.9,202.0 L59.4,202.1 L60.9,202.2 L62.4,202.3 L63.9,202.4 L65.4,202.6 L66.9,202.7 L68.4,202.8 L69.9,203.0 L71.4,203.1 L72.9,203.3 L74.4,203.4 L75.9,203.6 L77.4,203.7 L78.9,203.9 L80.4,204.0 L81.9,204.2 L83.4,204.4 L84.9,204.5 L86.4,204.7 L87.9,204.9 L89.4,205.0 L90.9,205.2 L92.4,205.4 L93.9,205.6 L95.4,205.7 L96.9,205.9 L98.4,206.1 L99.9,206.3 L101.4,206.5 L102.9,206.6 L104.4,206.8 L105.9,207.0 L107.4,207.1 L108.9,207.3 L110.4,207.5 L111.9,207.6 L113.4,207.8 L114.9,208.0 L116.4,208.1 L117.9,208.3 L119.4,208.4 L120.9,208.6 L122.4,208.7 L123.9,208.9 L125.4,209.1 L126.9,209.2 L128.4,209.4 L129.9,209.5 L131.4,209.7 L132.9,209.8 L134.4,210.0 L135.9,210.2 L137.4,210.3 L138.9,210.5 L140.4,210.7 L141.9,210.8 L143.4,211.0 L144.9,211.2 L146.4,211.3 L147.9,211.5 L149.4,211.7 L150.9,211.9 L152.4,212.0 L153.9,212.2 L155.4,212.4 L156.9,212.6 L158.4,212.7 L159.9,212.9 L161.4,213.1 L162.9,213.3 L164.4,213.4 L165.9,213.6 L167.4,213.8 L168.9,213.9 L170.4,214.1 L171.9,214.3 L173.4,214.5 L174.9,214.6 L176.4,214.8 L177.9,215.0 L179.4,215.1 L180.9,215.3 L182.4,215.5 L183.9,215.6 L185.4,215.8 L186.9,216.0 L188.4,216.1 L189.9,216.3 L191.4,216.5 L192.9,216.6 L194.4,216.8 L195.9,217.0 L197.4,217.2 L198.9,217.3 L200.4,217.5 L201.9,217.7 L203.4,217.9 L204.9,218.1 L206.4,218.2 L207.9,218.4 L209.4,218.6 L210.9,218.7 L212.4,218.9 L213.9,219.1 L215.4,219.2 L216.9,219.3 L218.4,219.5 L219.9,219.6 L221.4,219.7 L222.9,219.8 L224.4,219.9 L225.9,220.0 L227.4,220.0 L228.9,220.1 L230.4,220.1 L231.9,220.2 L233.4,220.3 L234.9,220.3 L236.4,220.4 L237.9,220.4 L239.4,220.5 L240.9,220.5 L242.4,220.5 L243.9,220.6 L245.4,220.6 L246.9,220.6 L248.4,220.7 L249.9,220.7 L251.4,220.7 L252.9,220.7 L254.4,220.8 L255.9,220.8 L257.4,220.8 L258.9,220.8 L260.4,220.8 L261.9,220.8 L263.4,220.8 L264.9,220.8 L266.4,220.8 L267.9,220.9 L269.4,220.9 L270.9,220.9 L272.4,220.9 L273.9,220.9 L275.4,220.9 L276.9,220.9 L278.4,220.9 L279.9,220.9 L281.4,220.9 L282.9,220.9 L284.4,220.9 L285.9,220.9 L287.4,220.9 L288.9,220.9 L290.4,220.9 L291.9,220.9 L293.4,220.9 L294.9,220.9 L296.4,220.9 L297.9,221.0 L299.4,221.0 L300.9,221.0 L302.4,221.0 L303.9,221.0 L305.4,221.0 L306.9,221.0 L308.4,221.0 L309.9,221.1 L311.4,221.1 L312.9,221.1 L314.4,221.2 L315.9,221.2 L317.4,221.2 L318.9,221.3 L320.4,221.3 L321.9,221.3 L323.4,221.4 L324.9,221.4 L326.4,221.4 L327.9,221.5 L329.4,221.5 L330.9,221.5 L332.4,221.5 L333.9,221.6 L335.4,221.6 L336.9,221.6 L338.4,221.6 L339.9,221.7 L341.4,221.7 L342.9,221.7 L344.4,221.7 L345.9,221.8 L347.4,221.8 L348.9,221.8 L350.4,221.8 L351.9,221.9 L353.4,221.9 L354.9,221.9 L356.4,222.0 L357.9,222.0 L359.4,222.0 L360.9,222.1 L362.4,222.1 L363.9,222.2 L365.4,222.2 L366.9,222.3 L368.4,222.3 L369.9,222.4 L371.4,222.4 L372.9,222.5 L374.4,222.6 L375.9,222.7 L377.4,222.8 L378.9,222.9 L380.4,223.0 L381.9,223.2 L383.4,223.4 L384.9,223.6 L386.4,223.8 L387.9,224.1 L389.4,224.3 L390.9,224.6 L392.4,224.9 L393.9,225.2 L395.4,225.5 L396.9,225.8 L398.4,226.2 L399.9,226.5 L401.4,226.8 L402.9,227.2 L404.4,227.6 L405.9,227.9 L407.4,228.3 L408.9,228.7 L410.4,229.0 L411.9,229.4 L413.4,229.8 L414.9,230.1 L416.4,230.5 L417.9,230.9 L419.4,231.2 L420.9,231.6 L422.4,231.9 L423.9,232.3 L425.4,232.6 L426.9,233.0 L428.4,233.3 L429.9,233.6 L431.4,234.0 L432.9,234.3 L434.4,234.7 L435.9,235.0 L437.4,235.4 L438.9,235.8 L440.4,236.1 L441.9,236.5 L443.4,236.9 L444.9,237.2 L446.4,237.6 L447.9,238.0 L449.4,238.4 L450.9,238.8 L452.4,239.2 L453.9,239.5 L455.4,239.9 L456.9,240.3 L458.4,240.7 L459.9,241.1 L461.4,241.4 L462.9,241.8 L464.4,242.2 L465.9,242.6 L467.4,242.9 L468.9,243.3 L470.4,243.6 L471.9,244.0 L473.4,244.3 L474.9,244.7 L476.4,245.0 L477.9,245.3 L479.4,245.6 L480.9,245.9 L482.4,246.2 L483.9,246.5 L485.4,246.8 L486.9,247.0 L488.4,247.3 L489.9,247.6 L491.4,247.8 L492.9,248.0 L494.4,248.2 L495.9,248.5 L497.4,248.7 L498.9,248.9 L500.4,249.1 L501.9,249.3 L503.4,249.4 L504.9,249.6 L506.4,249.8 L507.9,250.0 L509.4,250.2 L510.9,250.3 L512.4,250.5 L513.9,250.7 L515.4,250.8 L516.9,251.0 L518.4,251.2 L519.9,251.3 L521.4,251.5 L522.9,251.7 L524.4,251.9 L525.9,252.0 L527.4,252.2 L528.9,252.4 L530.4,252.6 L531.9,252.8 L533.4,253.0 L534.9,253.2 L536.4,253.4 L537.9,253.6 L539.4,253.9 L540.9,254.1 L542.4,254.3 L543.9,254.6 L545.4,254.8 L546.9,255.1 L548.4,255.3 L549.9,255.6 L551.4,255.8 L552.9,256.1 L554.4,256.3 L555.9,256.6 L557.4,256.9 L558.9,257.1 L560.4,257.4 L561.9,257.7 L563.4,257.9 L564.9,258.2 L566.4,258.5 L567.9,258.7 L569.4,259.0 L570.9,259.3 L572.4,259.6 L573.9,259.9 L575.4,260.2 L576.9,260.5 L578.4,260.8 L579.9,261.1 L581.4,261.4 L582.9,261.7 L584.4,262.0 L585.9,262.3 L587.4,262.5 L588.9,262.7 L590.4,262.8 L591.9,262.8 L593.4,262.8 L594.9,262.7 L596.4,262.6 L597.9,262.4 L599.4,262.2 L600.9,262.0 L602.4,261.8 L603.9,261.6 L605.4,261.4 L606.9,261.2 L608.4,261.1 L609.9,261.0 L611.4,260.9 L612.9,260.9 L614.4,260.8 L615.9,260.8 L617.4,260.8 L618.9,260.9 L620.4,260.9 L621.9,260.9 L623.4,260.9 L624.9,261.0 L626.4,261.0 L627.9,261.0 L629.4,261.1 L630.9,261.1 L632.4,261.2 L633.9,261.2 L635.4,261.3 L636.9,261.4 L638.4,261.5 L639.9,261.7 L641.4,262.0 L642.9,262.3 L644.4,262.8 L645.9,263.4 L647.4,264.0 L648.9,264.8 L650.4,265.6 L651.9,266.5 L653.4,267.4 L654.9,268.3 L656.4,269.2 L657.9,270.1 L659.4,270.9 L660.9,271.8 L662.4,272.7 L663.9,273.5 L665.4,274.4 L666.9,275.3 L668.4,276.2 L669.9,277.1 L671.4,278.0 L672.9,278.9 L674.4,279.8 L675.9,280.7 L677.4,281.5 L678.9,282.3 L680.4,283.2 L681.9,284.0 L683.4,284.8 L684.9,285.5 L686.4,286.3 L687.9,287.0 L689.4,287.8 L690.9,288.5 L692.4,289.3 L693.9,290.0 L695.4,290.7 L696.9,291.3 L698.4,292.0 L699.9,292.6 L701.4,293.2 L702.9,293.8 L704.4,294.3 L705.9,294.9 L707.4,295.4 L708.9,295.9 L710.4,296.4 L711.9,296.8 L713.4,297.2 L714.9,297.6 L716.4,297.9 L717.9,298.1 L719.4,298.2 L720.9,298.2 L722.4,298.1 L723.9,297.9 L725.4,297.7 L726.9,297.4 L728.4,297.0 L729.9,296.5 L731.4,296.0 L732.9,295.5 L734.4,295.0 L735.9,294.5 L737.4,294.0 L738.9,293.6 L740.4,293.1 L741.9,292.6 L743.4,292.2 L744.9,291.8 L746.4,291.4 L747.9,290.9 L749.4,290.5 L750.9,290.1 L752.4,289.7 L753.9,289.4 L755.4,289.0 L756.9,288.7 L758.4,288.4 L759.9,288.2 L761.4,288.1 L762.9,288.0 L764.4,287.9 L765.9,287.9 L767.4,288.0 L768.9,288.1 L770.4,288.3 L771.9,288.5 L773.4,288.7 L774.9,289.0 L776.4,289.2 L777.9,289.5 L779.4,289.8 L780.9,290.1 L782.4,290.4 L783.9,290.7 L785.4,291.0 L786.9,291.2 L788.4,291.4 L789.9,291.6 L791.4,291.7 L792.9,291.8 L794.4,291.8 L795.9,291.9 L797.4,291.8 L798.9,291.8 L800.4,291.7 L801.9,291.5 L803.4,291.4 L804.9,291.2 L806.4,291.0 L807.9,290.9 L809.4,290.6 L810.9,290.4 L812.4,290.2 L813.9,290.0 L815.4,289.7 L816.9,289.5 L818.4,289.2 L819.9,289.0 L821.4,288.7 L822.9,288.5 L824.4,288.2 L825.9,287.9 L827.4,287.6 L828.9,287.3 L830.4,287.0 L831.9,286.7 L833.4,286.4 L834.9,286.0 L836.4,285.7 L837.9,285.4 L839.4,285.0 L840.9,284.7 L842.4,284.3 L843.9,284.0 L845.4,283.6 L846.9,283.2 L848.4,282.8 L849.9,282.4 L851.4,282.0 L852.9,281.6 L854.4,281.2 L855.9,280.9 L857.4,280.6 L858.9,280.3 L860.4,280.1 L861.9,280.0 L863.4,280.0 L864.9,280.0 L866.4,280.1 L867.9,280.4 L869.4,280.7 L870.9,281.1 L872.4,281.6 L873.9,282.2 L875.4,282.8 L876.9,283.4 L878.4,284.1 L879.9,284.7 L881.4,285.4 L882.9,286.1 L884.4,286.8 L885.9,287.5 L887.4,288.2 L888.9,288.9 L890.4,289.6 L891.9,290.4 L893.4,291.2 L894.9,292.0 L896.4,292.7 L897.9,293.5 L899.4,294.2 L900.9,294.8 L902.4,295.3 L903.9,295.8 L905.4,296.2 L906.9,296.5 L908.4,296.8 L909.9,297.0 L911.4,297.1 L912.9,297.2 L914.4,297.3 L915.9,297.4 L917.4,297.5 L918.9,297.5 L920.4,297.6 L921.9,297.6 L923.4,297.7 L924.9,297.7 L926.4,297.8 L927.9,297.8 L929.4,297.8 L930.9,297.8 L932.4,297.9 L933.9,297.9 L935.4,297.9 L936.9,297.8 L938.4,297.8 L939.9,297.8 L941.4,297.7 L942.9,297.7 L944.4,297.6 L945.9,297.5 L947.4,297.4 L948.9,297.2 L950.4,297.1 L951.9,297.0 L953.4,296.8 L954.9,296.6 L956.4,296.5 L957.9,296.3 L959.4,296.1 L960.9,295.9 L962.4,295.8 L962.9,295.7" stroke="#5eaade" stroke-width="1.7" fill="none" stroke-linejoin="round"/>
<path d="M14.4,244.7 L15.9,244.7 L17.4,244.7 L18.9,244.7 L20.4,244.7 L21.9,244.7 L23.4,244.7 L24.9,244.7 L26.4,244.7 L27.9,244.7 L29.4,244.7 L30.9,244.7 L32.4,244.7 L33.9,244.7 L35.4,244.7 L36.9,244.7 L38.4,244.7 L39.9,244.7 L41.4,244.7 L42.9,244.7 L44.4,244.7 L45.9,244.7 L47.4,244.7 L48.9,244.6 L50.4,244.6 L51.9,244.6 L53.4,244.6 L54.9,244.6 L56.4,244.5 L57.9,244.5 L59.4,244.5 L60.9,244.5 L62.4,244.4 L63.9,244.4 L65.4,244.4 L66.9,244.4 L68.4,244.3 L69.9,244.3 L71.4,244.3 L72.9,244.2 L74.4,244.2 L75.9,244.1 L77.4,244.1 L78.9,244.1 L80.4,244.0 L81.9,244.0 L83.4,244.0 L84.9,243.9 L86.4,243.9 L87.9,243.8 L89.4,243.8 L90.9,243.8 L92.4,243.7 L93.9,243.7 L95.4,243.6 L96.9,243.6 L98.4,243.5 L99.9,243.5 L101.4,243.5 L102.9,243.4 L104.4,243.4 L105.9,243.3 L107.4,243.3 L108.9,243.3 L110.4,243.2 L111.9,243.2 L113.4,243.2 L114.9,243.1 L116.4,243.1 L117.9,243.0 L119.4,243.0 L120.9,243.0 L122.4,243.0 L123.9,242.9 L125.4,242.9 L126.9,242.9 L128.4,242.8 L129.9,242.8 L131.4,242.8 L132.9,242.7 L134.4,242.7 L135.9,242.7 L137.4,242.7 L138.9,242.6 L140.4,242.6 L141.9,242.6 L143.4,242.5 L144.9,242.5 L146.4,242.5 L147.9,242.4 L149.4,242.4 L150.9,242.4 L152.4,242.4 L153.9,242.3 L155.4,242.3 L156.9,242.3 L158.4,242.2 L159.9,242.2 L161.4,242.2 L162.9,242.1 L164.4,242.1 L165.9,242.0 L167.4,242.0 L168.9,242.0 L170.4,241.9 L171.9,241.9 L173.4,241.8 L174.9,241.8 L176.4,241.8 L177.9,241.7 L179.4,241.7 L180.9,241.6 L182.4,241.6 L183.9,241.5 L185.4,241.5 L186.9,241.4 L188.4,241.4 L189.9,241.3 L191.4,241.3 L192.9,241.2 L194.4,241.2 L195.9,241.1 L197.4,241.1 L198.9,241.0 L200.4,240.9 L201.9,240.9 L203.4,240.8 L204.9,240.7 L206.4,240.7 L207.9,240.6 L209.4,240.5 L210.9,240.4 L212.4,240.4 L213.9,240.3 L215.4,240.2 L216.9,240.1 L218.4,240.0 L219.9,239.9 L221.4,239.8 L222.9,239.6 L224.4,239.5 L225.9,239.4 L227.4,239.2 L228.9,239.0 L230.4,238.8 L231.9,238.5 L233.4,238.2 L234.9,237.9 L236.4,237.6 L237.9,237.2 L239.4,236.8 L240.9,236.4 L242.4,236.0 L243.9,235.6 L245.4,235.1 L246.9,234.7 L248.4,234.2 L249.9,233.7 L251.4,233.3 L252.9,232.8 L254.4,232.4 L255.9,232.0 L257.4,231.5 L258.9,231.1 L260.4,230.6 L261.9,230.2 L263.4,229.7 L264.9,229.3 L266.4,228.8 L267.9,228.4 L269.4,227.9 L270.9,227.5 L272.4,227.0 L273.9,226.6 L275.4,226.2 L276.9,225.8 L278.4,225.4 L279.9,225.0 L281.4,224.7 L282.9,224.4 L284.4,224.1 L285.9,223.8 L287.4,223.5 L288.9,223.3 L290.4,223.0 L291.9,222.8 L293.4,222.5 L294.9,222.3 L296.4,222.1 L297.9,221.8 L299.4,221.6 L300.9,221.4 L302.4,221.1 L303.9,220.8 L305.4,220.6 L306.9,220.3 L308.4,220.0 L309.9,219.7 L311.4,219.4 L312.9,219.1 L314.4,218.8 L315.9,218.4 L317.4,218.1 L318.9,217.8 L320.4,217.5 L321.9,217.2 L323.4,216.8 L324.9,216.5 L326.4,216.2 L327.9,215.9 L329.4,215.6 L330.9,215.3 L332.4,215.0 L333.9,214.7 L335.4,214.4 L336.9,214.1 L338.4,213.8 L339.9,213.5 L341.4,213.1 L342.9,212.8 L344.4,212.5 L345.9,212.2 L347.4,211.9 L348.9,211.6 L350.4,211.3 L351.9,211.0 L353.4,210.7 L354.9,210.5 L356.4,210.2 L357.9,210.0 L359.4,209.8 L360.9,209.6 L362.4,209.5 L363.9,209.4 L365.4,209.3 L366.9,209.2 L368.4,209.1 L369.9,209.1 L371.4,209.2 L372.9,209.3 L374.4,209.4 L375.9,209.6 L377.4,209.7 L378.9,210.0 L380.4,210.2 L381.9,210.5 L383.4,210.8 L384.9,211.1 L386.4,211.4 L387.9,211.7 L389.4,212.0 L390.9,212.3 L392.4,212.6 L393.9,212.9 L395.4,213.3 L396.9,213.7 L398.4,214.0 L399.9,214.4 L401.4,214.8 L402.9,215.2 L404.4,215.6 L405.9,216.1 L407.4,216.5 L408.9,216.9 L410.4,217.4 L411.9,217.9 L413.4,218.3 L414.9,218.8 L416.4,219.2 L417.9,219.7 L419.4,220.2 L420.9,220.6 L422.4,221.1 L423.9,221.6 L425.4,222.0 L426.9,222.5 L428.4,222.9 L429.9,223.4 L431.4,223.9 L432.9,224.3 L434.4,224.8 L435.9,225.3 L437.4,225.7 L438.9,226.2 L440.4,226.7 L441.9,227.2 L443.4,227.7 L444.9,228.2 L446.4,228.7 L447.9,229.2 L449.4,229.6 L450.9,230.1 L452.4,230.6 L453.9,231.1 L455.4,231.6 L456.9,232.1 L458.4,232.5 L459.9,233.0 L461.4,233.5 L462.9,234.0 L464.4,234.5 L465.9,234.9 L467.4,235.4 L468.9,235.9 L470.4,236.4 L471.9,236.9 L473.4,237.4 L474.9,237.9 L476.4,238.4 L477.9,238.9 L479.4,239.4 L480.9,239.9 L482.4,240.4 L483.9,240.8 L485.4,241.3 L486.9,241.7 L488.4,242.2 L489.9,242.6 L491.4,243.0 L492.9,243.4 L494.4,243.8 L495.9,244.1 L497.4,244.4 L498.9,244.7 L500.4,245.0 L501.9,245.3 L503.4,245.6 L504.9,245.9 L506.4,246.1 L507.9,246.4 L509.4,246.6 L510.9,246.9 L512.4,247.1 L513.9,247.4 L515.4,247.6 L516.9,247.8 L518.4,248.0 L519.9,248.2 L521.4,248.4 L522.9,248.6 L524.4,248.7 L525.9,248.9 L527.4,249.0 L528.9,249.2 L530.4,249.3 L531.9,249.4 L533.4,249.4 L534.9,249.5 L536.4,249.6 L537.9,249.6 L539.4,249.6 L540.9,249.7 L542.4,249.7 L543.9,249.7 L545.4,249.8 L546.9,249.8 L548.4,249.8 L549.9,249.8 L551.4,249.8 L552.9,249.9 L554.4,249.9 L555.9,249.9 L557.4,249.9 L558.9,249.9 L560.4,249.9 L561.9,249.9 L563.4,250.0 L564.9,250.0 L566.4,250.0 L567.9,250.0 L569.4,250.0 L570.9,250.0 L572.4,250.0 L573.9,250.0 L575.4,250.0 L576.9,250.0 L578.4,249.9 L579.9,249.9 L581.4,249.9 L582.9,249.8 L584.4,249.7 L585.9,249.7 L587.4,249.6 L588.9,249.5 L590.4,249.5 L591.9,249.4 L593.4,249.3 L594.9,249.2 L596.4,249.1 L597.9,249.0 L599.4,248.9 L600.9,248.8 L602.4,248.7 L603.9,248.7 L605.4,248.6 L606.9,248.5 L608.4,248.4 L609.9,248.3 L611.4,248.3 L612.9,248.2 L614.4,248.1 L615.9,248.0 L617.4,248.0 L618.9,247.9 L620.4,247.8 L621.9,247.7 L623.4,247.7 L624.9,247.6 L626.4,247.5 L627.9,247.4 L629.4,247.4 L630.9,247.3 L632.4,247.3 L633.9,247.2 L635.4,247.2 L636.9,247.2 L638.4,247.2 L639.9,247.2 L641.4,247.2 L642.9,247.3 L644.4,247.4 L645.9,247.6 L647.4,247.7 L648.9,247.9 L650.4,248.1 L651.9,248.4 L653.4,248.6 L654.9,248.9 L656.4,249.1 L657.9,249.3 L659.4,249.6 L660.9,249.9 L662.4,250.1 L663.9,250.4 L665.4,250.7 L666.9,250.9 L668.4,251.2 L669.9,251.5 L671.4,251.9 L672.9,252.2 L674.4,252.5 L675.9,252.9 L677.4,253.2 L678.9,253.6 L680.4,253.9 L681.9,254.2 L683.4,254.4 L684.9,254.6 L686.4,254.7 L687.9,254.8 L689.4,254.8 L690.9,254.7 L692.4,254.6 L693.9,254.5 L695.4,254.3 L696.9,254.1 L698.4,253.8 L699.9,253.5 L701.4,253.2 L702.9,252.9 L704.4,252.6 L705.9,252.2 L707.4,251.9 L708.9,251.5 L710.4,251.2 L711.9,250.8 L713.4,250.5 L714.9,250.1 L716.4,249.8 L717.9,249.4 L719.4,249.1 L720.9,248.7 L722.4,248.3 L723.9,247.9 L725.4,247.5 L726.9,247.1 L728.4,246.7 L729.9,246.3 L731.4,245.9 L732.9,245.4 L734.4,245.0 L735.9,244.6 L737.4,244.2 L738.9,243.8 L740.4,243.4 L741.9,243.1 L743.4,242.8 L744.9,242.5 L746.4,242.2 L747.9,242.0 L749.4,241.7 L750.9,241.6 L752.4,241.4 L753.9,241.3 L755.4,241.2 L756.9,241.1 L758.4,241.0 L759.9,241.0 L761.4,240.9 L762.9,240.9 L764.4,240.8 L765.9,240.8 L767.4,240.7 L768.9,240.7 L770.4,240.6 L771.9,240.6 L773.4,240.6 L774.9,240.5 L776.4,240.5 L777.9,240.4 L779.4,240.4 L780.9,240.4 L782.4,240.3 L783.9,240.2 L785.4,240.2 L786.9,240.1 L788.4,240.0 L789.9,240.0 L791.4,239.9 L792.9,239.8 L794.4,239.7 L795.9,239.6 L797.4,239.5 L798.9,239.4 L800.4,239.3 L801.9,239.2 L803.4,239.0 L804.9,238.9 L806.4,238.7 L807.9,238.6 L809.4,238.4 L810.9,238.1 L812.4,237.9 L813.9,237.6 L815.4,237.3 L816.9,236.9 L818.4,236.5 L819.9,236.1 L821.4,235.8 L822.9,235.4 L824.4,235.1 L825.9,234.9 L827.4,234.7 L828.9,234.6 L830.4,234.5 L831.9,234.5 L833.4,234.5 L834.9,234.6 L836.4,234.6 L837.9,234.8 L839.4,234.9 L840.9,235.1 L842.4,235.2 L843.9,235.4 L845.4,235.6 L846.9,235.8 L848.4,236.1 L849.9,236.3 L851.4,236.6 L852.9,236.9 L854.4,237.2 L855.9,237.6 L857.4,238.1 L858.9,238.6 L860.4,239.2 L861.9,239.8 L863.4,240.5 L864.9,241.3 L866.4,242.0 L867.9,242.8 L869.4,243.6 L870.9,244.4 L872.4,245.1 L873.9,245.8 L875.4,246.4 L876.9,247.0 L878.4,247.6 L879.9,248.1 L881.4,248.6 L882.9,249.1 L884.4,249.6 L885.9,250.0 L887.4,250.4 L888.9,250.8 L890.4,251.2 L891.9,251.6 L893.4,251.9 L894.9,252.1 L896.4,252.4 L897.9,252.5 L899.4,252.6 L900.9,252.7 L902.4,252.7 L903.9,252.7 L905.4,252.6 L906.9,252.5 L908.4,252.4 L909.9,252.2 L911.4,252.0 L912.9,251.8 L914.4,251.6 L915.9,251.4 L917.4,251.1 L918.9,250.9 L920.4,250.6 L921.9,250.3 L923.4,250.1 L924.9,249.8 L926.4,249.5 L927.9,249.2 L929.4,248.9 L930.9,248.6 L932.4,248.2 L933.9,247.9 L935.4,247.5 L936.9,247.1 L938.4,246.7 L939.9,246.3 L941.4,245.9 L942.9,245.4 L944.4,245.0 L945.9,244.5 L947.4,244.0 L948.9,243.5 L950.4,243.0 L951.9,242.5 L953.4,241.9 L954.9,241.4 L956.4,240.9 L957.9,240.3 L959.4,239.7 L960.9,239.2 L962.4,238.7 L962.9,238.5" stroke="#5249d8" stroke-width="1.7" fill="none" stroke-linejoin="round"/>
<path d="M14.4,162.3 L15.9,162.2 L17.4,162.0 L18.9,161.9 L20.4,161.8 L21.9,161.7 L23.4,161.5 L24.9,161.4 L26.4,161.3 L27.9,161.2 L29.4,161.0 L30.9,160.9 L32.4,160.8 L33.9,160.7 L35.4,160.5 L36.9,160.4 L38.4,160.3 L39.9,160.1 L41.4,160.0 L42.9,159.9 L44.4,159.8 L45.9,159.6 L47.4,159.5 L48.9,159.4 L50.4,159.3 L51.9,159.1 L53.4,159.0 L54.9,158.9 L56.4,158.8 L57.9,158.6 L59.4,158.5 L60.9,158.4 L62.4,158.3 L63.9,158.1 L65.4,158.0 L66.9,157.9 L68.4,157.8 L69.9,157.6 L71.4,157.5 L72.9,157.4 L74.4,157.3 L75.9,157.1 L77.4,157.0 L78.9,156.9 L80.4,156.8 L81.9,156.6 L83.4,156.5 L84.9,156.4 L86.4,156.3 L87.9,156.1 L89.4,156.0 L90.9,155.9 L92.4,155.8 L93.9,155.6 L95.4,155.5 L96.9,155.4 L98.4,155.3 L99.9,155.2 L101.4,155.0 L102.9,154.9 L104.4,154.8 L105.9,154.7 L107.4,154.5 L108.9,154.4 L110.4,154.3 L111.9,154.2 L113.4,154.0 L114.9,153.9 L116.4,153.8 L117.9,153.7 L119.4,153.5 L120.9,153.4 L122.4,153.3 L123.9,153.2 L125.4,153.1 L126.9,152.9 L128.4,152.8 L129.9,152.7 L131.4,152.6 L132.9,152.4 L134.4,152.3 L135.9,152.2 L137.4,152.1 L138.9,152.0 L140.4,151.8 L141.9,151.7 L143.4,151.6 L144.9,151.5 L146.4,151.3 L147.9,151.2 L149.4,151.1 L150.9,151.0 L152.4,150.8 L153.9,150.7 L155.4,150.6 L156.9,150.5 L158.4,150.4 L159.9,150.2 L161.4,150.1 L162.9,150.0 L164.4,149.9 L165.9,149.7 L167.4,149.6 L168.9,149.5 L170.4,149.4 L171.9,149.3 L173.4,149.1 L174.9,149.0 L176.4,148.9 L177.9,148.8 L179.4,148.6 L180.9,148.5 L182.4,148.4 L183.9,148.3 L185.4,148.2 L186.9,148.0 L188.4,147.9 L189.9,147.8 L191.4,147.7 L192.9,147.6 L194.4,147.4 L195.9,147.3 L197.4,147.2 L198.9,147.1 L200.4,147.0 L201.9,146.8 L203.4,146.7 L204.9,146.6 L206.4,146.5 L207.9,146.4 L209.4,146.3 L210.9,146.1 L212.4,146.0 L213.9,145.9 L215.4,145.8 L216.9,145.7 L218.4,145.6 L219.9,145.4 L221.4,145.3 L222.9,145.2 L224.4,145.1 L225.9,145.0 L227.4,144.9 L228.9,144.7 L230.4,144.6 L231.9,144.5 L233.4,144.4 L234.9,144.3 L236.4,144.2 L237.9,144.1 L239.4,144.0 L240.9,143.8 L242.4,143.7 L243.9,143.6 L245.4,143.5 L246.9,143.4 L248.4,143.3 L249.9,143.2 L251.4,143.1 L252.9,143.0 L254.4,142.9 L255.9,142.8 L257.4,142.6 L258.9,142.5 L260.4,142.4 L261.9,142.3 L263.4,142.2 L264.9,142.1 L266.4,142.0 L267.9,141.9 L269.4,141.8 L270.9,141.7 L272.4,141.6 L273.9,141.5 L275.4,141.3 L276.9,141.2 L278.4,141.1 L279.9,141.0 L281.4,140.9 L282.9,140.8 L284.4,140.7 L285.9,140.6 L287.4,140.5 L288.9,140.3 L290.4,140.2 L291.9,140.1 L293.4,140.0 L294.9,139.9 L296.4,139.8 L297.9,139.7 L299.4,139.5 L300.9,139.4 L302.4,139.3 L303.9,139.2 L305.4,139.1 L306.9,138.9 L308.4,138.8 L309.9,138.7 L311.4,138.6 L312.9,138.4 L314.4,138.3 L315.9,138.2 L317.4,138.0 L318.9,137.9 L320.4,137.8 L321.9,137.6 L323.4,137.5 L324.9,137.3 L326.4,137.2 L327.9,137.0 L329.4,136.9 L330.9,136.8 L332.4,136.6 L333.9,136.5 L335.4,136.3 L336.9,136.2 L338.4,136.0 L339.9,135.9 L341.4,135.7 L342.9,135.6 L344.4,135.4 L345.9,135.2 L347.4,135.1 L348.9,134.9 L350.4,134.7 L351.9,134.5 L353.4,134.3 L354.9,134.2 L356.4,134.0 L357.9,133.8 L359.4,133.5 L360.9,133.3 L362.4,133.1 L363.9,132.9 L365.4,132.6 L366.9,132.4 L368.4,132.1 L369.9,131.9 L371.4,131.6 L372.9,131.3 L374.4,131.0 L375.9,130.6 L377.4,130.3 L378.9,129.9 L380.4,129.4 L381.9,129.0 L383.4,128.5 L384.9,128.0 L386.4,127.4 L387.9,126.9 L389.4,126.3 L390.9,125.8 L392.4,125.2 L393.9,124.6 L395.4,124.0 L396.9,123.4 L398.4,122.8 L399.9,122.2 L401.4,121.6 L402.9,121.0 L404.4,120.3 L405.9,119.7 L407.4,119.0 L408.9,118.4 L410.4,117.7 L411.9,117.0 L413.4,116.3 L414.9,115.6 L416.4,114.9 L417.9,114.2 L419.4,113.5 L420.9,112.8 L422.4,112.1 L423.9,111.4 L425.4,110.7 L426.9,110.1 L428.4,109.4 L429.9,108.7 L431.4,108.0 L432.9,107.3 L434.4,106.6 L435.9,105.9 L437.4,105.3 L438.9,104.6 L440.4,103.9 L441.9,103.2 L443.4,102.5 L444.9,101.8 L446.4,101.1 L447.9,100.4 L449.4,99.7 L450.9,99.0 L452.4,98.3 L453.9,97.6 L455.4,96.9 L456.9,96.3 L458.4,95.6 L459.9,94.9 L461.4,94.2 L462.9,93.6 L464.4,92.9 L465.9,92.2 L467.4,91.6 L468.9,90.9 L470.4,90.3 L471.9,89.6 L473.4,89.0 L474.9,88.4 L476.4,87.8 L477.9,87.2 L479.4,86.6 L480.9,85.9 L482.4,85.3 L483.9,84.8 L485.4,84.2 L486.9,83.6 L488.4,83.0 L489.9,82.4 L491.4,81.9 L492.9,81.3 L494.4,80.8 L495.9,80.3 L497.4,79.8 L498.9,79.4 L500.4,78.9 L501.9,78.5 L503.4,78.1 L504.9,77.7 L506.4,77.4 L507.9,77.0 L509.4,76.7 L510.9,76.4 L512.4,76.1 L513.9,75.9 L515.4,75.6 L516.9,75.4 L518.4,75.3 L519.9,75.1 L521.4,75.0 L522.9,74.9 L524.4,74.8 L525.9,74.7 L527.4,74.6 L528.9,74.5 L530.4,74.4 L531.9,74.3 L533.4,74.2 L534.9,74.1 L536.4,74.0 L537.9,73.9 L539.4,73.8 L540.9,73.7 L542.4,73.5 L543.9,73.4 L545.4,73.3 L546.9,73.1 L548.4,72.9 L549.9,72.8 L551.4,72.6 L552.9,72.5 L554.4,72.3 L555.9,72.1 L557.4,72.0 L558.9,71.8 L560.4,71.6 L561.9,71.4 L563.4,71.3 L564.9,71.1 L566.4,70.9 L567.9,70.7 L569.4,70.6 L570.9,70.4 L572.4,70.2 L573.9,70.0 L575.4,69.9 L576.9,69.7 L578.4,69.5 L579.9,69.3 L581.4,69.1 L582.9,68.9 L584.4,68.8 L585.9,68.6 L587.4,68.5 L588.9,68.3 L590.4,68.2 L591.9,68.1 L593.4,68.1 L594.9,68.0 L596.4,68.0 L597.9,67.9 L599.4,67.9 L600.9,67.9 L602.4,67.9 L603.9,67.8 L605.4,67.8 L606.9,67.8 L608.4,67.8 L609.9,67.8 L611.4,67.7 L612.9,67.6 L614.4,67.5 L615.9,67.4 L617.4,67.3 L618.9,67.0 L620.4,66.8 L621.9,66.5 L623.4,66.2 L624.9,65.8 L626.4,65.5 L627.9,65.0 L629.4,64.6 L630.9,64.2 L632.4,63.7 L633.9,63.2 L635.4,62.6 L636.9,62.1 L638.4,61.4 L639.9,60.8 L641.4,60.1 L642.9,59.4 L644.4,58.6 L645.9,57.8 L647.4,57.0 L648.9,56.2 L650.4,55.3 L651.9,54.4 L653.4,53.5 L654.9,52.5 L656.4,51.5 L657.9,50.5 L659.4,49.4 L660.9,48.4 L662.4,47.3 L663.9,46.3 L665.4,45.3 L666.9,44.3 L668.4,43.4 L669.9,42.4 L671.4,41.5 L672.9,40.7 L674.4,39.8 L675.9,39.1 L677.4,38.3 L678.9,37.7 L680.4,37.1 L681.9,36.6 L683.4,36.2 L684.9,35.8 L686.4,35.5 L687.9,35.2 L689.4,35.0 L690.9,34.8 L692.4,34.6 L693.9,34.5 L695.4,34.4 L696.9,34.3 L698.4,34.4 L699.9,34.5 L701.4,34.6 L702.9,34.8 L704.4,35.0 L705.9,35.3 L707.4,35.5 L708.9,35.8 L710.4,36.1 L711.9,36.3 L713.4,36.6 L714.9,36.8 L716.4,37.0 L717.9,37.2 L719.4,37.5 L720.9,37.7 L722.4,37.9 L723.9,38.1 L725.4,38.3 L726.9,38.5 L728.4,38.8 L729.9,39.0 L731.4,39.2 L732.9,39.4 L734.4,39.6 L735.9,39.9 L737.4,40.1 L738.9,40.3 L740.4,40.5 L741.9,40.8 L743.4,41.0 L744.9,41.2 L746.4,41.4 L747.9,41.7 L749.4,41.9 L750.9,42.1 L752.4,42.4 L753.9,42.6 L755.4,42.8 L756.9,43.0 L758.4,43.2 L759.9,43.5 L761.4,43.7 L762.9,43.9 L764.4,44.1 L765.9,44.3 L767.4,44.6 L768.9,44.8 L770.4,45.0 L771.9,45.2 L773.4,45.5 L774.9,45.7 L776.4,46.0 L777.9,46.3 L779.4,46.5 L780.9,46.8 L782.4,47.1 L783.9,47.5 L785.4,47.8 L786.9,48.1 L788.4,48.5 L789.9,48.8 L791.4,49.2 L792.9,49.5 L794.4,49.9 L795.9,50.2 L797.4,50.5 L798.9,50.9 L800.4,51.2 L801.9,51.5 L803.4,51.7 L804.9,52.0 L806.4,52.3 L807.9,52.6 L809.4,52.9 L810.9,53.1 L812.4,53.4 L813.9,53.6 L815.4,53.9 L816.9,54.1 L818.4,54.3 L819.9,54.5 L821.4,54.7 L822.9,54.8 L824.4,54.9 L825.9,55.0 L827.4,55.1 L828.9,55.1 L830.4,55.0 L831.9,55.0 L833.4,54.9 L834.9,54.8 L836.4,54.6 L837.9,54.4 L839.4,54.2 L840.9,54.0 L842.4,53.7 L843.9,53.4 L845.4,53.0 L846.9,52.6 L848.4,52.1 L849.9,51.5 L851.4,50.9 L852.9,50.2 L854.4,49.4 L855.9,48.6 L857.4,47.8 L858.9,46.9 L860.4,46.1 L861.9,45.2 L863.4,44.4 L864.9,43.5 L866.4,42.7 L867.9,41.9 L869.4,41.1 L870.9,40.3 L872.4,39.6 L873.9,38.8 L875.4,38.0 L876.9,37.3 L878.4,36.5 L879.9,35.8 L881.4,35.1 L882.9,34.4 L884.4,33.7 L885.9,33.1 L887.4,32.6 L888.9,32.1 L890.4,31.7 L891.9,31.3 L893.4,30.9 L894.9,30.5 L896.4,30.2 L897.9,29.9 L899.4,29.7 L900.9,29.5 L902.4,29.3 L903.9,29.1 L905.4,29.1 L906.9,29.0 L908.4,29.0 L909.9,29.1 L911.4,29.3 L912.9,29.4 L914.4,29.7 L915.9,30.0 L917.4,30.3 L918.9,30.6 L920.4,31.0 L921.9,31.4 L923.4,31.8 L924.9,32.3 L926.4,32.8 L927.9,33.3 L929.4,33.8 L930.9,34.4 L932.4,35.0 L933.9,35.7 L935.4,36.3 L936.9,37.0 L938.4,37.7 L939.9,38.4 L941.4,39.1 L942.9,39.8 L944.4,40.4 L945.9,41.1 L947.4,41.7 L948.9,42.3 L950.4,42.9 L951.9,43.5 L953.4,44.0 L954.9,44.6 L956.4,45.2 L957.9,45.7 L959.4,46.3 L960.9,46.8 L962.4,47.4 L962.9,47.6" stroke="#378a45" stroke-width="1.7" fill="none" stroke-linejoin="round"/>
<path d="M36.2,153.0h4.4M38.4,150.8v4.4" stroke="#236727" stroke-width="1.2" fill="none"/>
<path d="M36.2,193.8h4.4M38.4,191.6v4.4" stroke="#a82727" stroke-width="1.2" fill="none"/>
<path d="M36.2,201.3h4.4M38.4,199.1v4.4" stroke="#3b77a8" stroke-width="1.2" fill="none"/>
<path d="M36.2,244.7h4.4M38.4,242.5v4.4" stroke="#1f1c9f" stroke-width="1.2" fill="none"/>
<path d="M36.2,329.8h4.4M38.4,327.6v4.4" stroke="#aea01f" stroke-width="1.2" fill="none"/>
<path d="M36.2,337.4h4.4M38.4,335.2v4.4" stroke="#161616" stroke-width="1.2" fill="none"/>
<path d="M36.2,368.8h4.4M38.4,366.6v4.4" stroke="#196d67" stroke-width="1.2" fill="none"/>
<path d="M36.2,400.8h4.4M38.4,398.6v4.4" stroke="#b47022" stroke-width="1.2" fill="none"/>
<path d="M224.1,145.0h4.4M226.3,142.8v4.4" stroke="#236727" stroke-width="1.2" fill="none"/>
<path d="M224.1,198.0h4.4M226.3,195.8v4.4" stroke="#a82727" stroke-width="1.2" fill="none"/>
<path d="M224.1,219.6h4.4M226.3,217.4v4.4" stroke="#3b77a8" stroke-width="1.2" fill="none"/>
<path d="M224.1,239.3h4.4M226.3,237.1v4.4" stroke="#1f1c9f" stroke-width="1.2" fill="none"/>
<path d="M224.1,289.7h4.4M226.3,287.5v4.4" stroke="#606d1f" stroke-width="1.2" fill="none"/>
<path d="M224.1,345.0h4.4M226.3,342.8v4.4" stroke="#161616" stroke-width="1.2" fill="none"/>
<path d="M224.1,350.7h4.4M226.3,348.5v4.4" stroke="#196d67" stroke-width="1.2" fill="none"/>
<path d="M224.1,433.0h4.4M226.3,430.8v4.4" stroke="#b47022" stroke-width="1.2" fill="none"/>
<path d="M371.8,138.2h4.4M374.0,136.0v4.4" stroke="#236727" stroke-width="1.2" fill="none"/>
<path d="M371.8,205.5h4.4M374.0,203.3v4.4" stroke="#1f1c9f" stroke-width="1.2" fill="none"/>
<path d="M371.8,222.0h4.4M374.0,219.8v4.4" stroke="#3b77a8" stroke-width="1.2" fill="none"/>
<path d="M371.8,238.7h4.4M374.0,236.5v4.4" stroke="#a82727" stroke-width="1.2" fill="none"/>
<path d="M371.8,348.7h4.4M374.0,346.5v4.4" stroke="#606d1f" stroke-width="1.2" fill="none"/>
<path d="M371.8,354.9h4.4M374.0,352.7v4.4" stroke="#161616" stroke-width="1.2" fill="none"/>
<path d="M371.8,400.5h4.4M374.0,398.3v4.4" stroke="#196d67" stroke-width="1.2" fill="none"/>
<path d="M578.7,73.6l3.6,3.6M582.3,73.6l-3.6,3.6" stroke="#256e2a" stroke-width="2.2" fill="none"/>
<path d="M578.7,248.2l3.6,3.6M582.3,248.2l-3.6,3.6" stroke="#211ea9" stroke-width="2.2" fill="none"/>
<path d="M578.7,255.6l3.6,3.6M582.3,255.6l-3.6,3.6" stroke="#3f7fb3" stroke-width="2.2" fill="none"/>
<path d="M578.7,262.2l3.6,3.6M582.3,262.2l-3.6,3.6" stroke="#b32929" stroke-width="2.2" fill="none"/>
<path d="M578.7,346.2l3.6,3.6M582.3,346.2l-3.6,3.6" stroke="#667421" stroke-width="2.2" fill="none"/>
<path d="M578.7,355.7l3.6,3.6M582.3,355.7l-3.6,3.6" stroke="#b9ab21" stroke-width="2.2" fill="none"/>
<path d="M578.7,378.4l3.6,3.6M582.3,378.4l-3.6,3.6" stroke="#1b746e" stroke-width="2.2" fill="none"/>
<path d="M578.7,389.4l3.6,3.6M582.3,389.4l-3.6,3.6" stroke="#181818" stroke-width="2.2" fill="none"/>
<path d="M578.7,398.8l3.6,3.6M582.3,398.8l-3.6,3.6" stroke="#c07824" stroke-width="2.2" fill="none"/>
<path d="M578.7,424.6l3.6,3.6M582.3,424.6l-3.6,3.6" stroke="#c026be" stroke-width="2.2" fill="none"/>
<path d="M592.2,52.4L595.0,55.2L592.2,58.0L589.4,55.2Z" fill="#2f8a35" stroke="#17451a" stroke-width="0.6"/>
<path d="M592.2,250.6L595.0,253.4L592.2,256.2L589.4,253.4Z" fill="#2a26d4" stroke="#15136a" stroke-width="0.6"/>
<path d="M592.2,277.9L595.0,280.7L592.2,283.5L589.4,280.7Z" fill="#4f9fe0" stroke="#274f70" stroke-width="0.6"/>
<path d="M592.2,304.8L595.0,307.6L592.2,310.4L589.4,307.6Z" fill="#e03434" stroke="#701a1a" stroke-width="0.6"/>
<path d="M592.2,345.5L595.0,348.3L592.2,351.1L589.4,348.3Z" fill="#80922a" stroke="#404915" stroke-width="0.6"/>
<path d="M592.2,355.2L595.0,358.0L592.2,360.8L589.4,358.0Z" fill="#f0962e" stroke="#784b17" stroke-width="0.6"/>
<path d="M592.2,379.4L595.0,382.2L592.2,385.0L589.4,382.2Z" fill="#1e1e1e" stroke="#0f0f0f" stroke-width="0.6"/>
<path d="M592.2,397.8L595.0,400.6L592.2,403.4L589.4,400.6Z" fill="#e8d62a" stroke="#746b15" stroke-width="0.6"/>
<path d="M592.2,423.2L595.0,426.0L592.2,428.8L589.4,426.0Z" fill="#f030ee" stroke="#781877" stroke-width="0.6"/>
<path d="M608.2,72.0l3.6,3.6M611.8,72.0l-3.6,3.6" stroke="#256e2a" stroke-width="2.2" fill="none"/>
<path d="M608.2,245.2l3.6,3.6M611.8,245.2l-3.6,3.6" stroke="#211ea9" stroke-width="2.2" fill="none"/>
<path d="M608.2,258.2l3.6,3.6M611.8,258.2l-3.6,3.6" stroke="#3f7fb3" stroke-width="2.2" fill="none"/>
<path d="M608.2,264.0l3.6,3.6M611.8,264.0l-3.6,3.6" stroke="#b32929" stroke-width="2.2" fill="none"/>
<path d="M608.2,335.8l3.6,3.6M611.8,335.8l-3.6,3.6" stroke="#667421" stroke-width="2.2" fill="none"/>
<path d="M608.2,362.0l3.6,3.6M611.8,362.0l-3.6,3.6" stroke="#b9ab21" stroke-width="2.2" fill="none"/>
<path d="M608.2,382.0l3.6,3.6M611.8,382.0l-3.6,3.6" stroke="#1b746e" stroke-width="2.2" fill="none"/>
<path d="M608.2,389.0l3.6,3.6M611.8,389.0l-3.6,3.6" stroke="#181818" stroke-width="2.2" fill="none"/>
<path d="M608.2,415.8l3.6,3.6M611.8,415.8l-3.6,3.6" stroke="#c026be" stroke-width="2.2" fill="none"/>
<path d="M643.5,67.3l3.6,3.6M647.1,67.3l-3.6,3.6" stroke="#256e2a" stroke-width="2.2" fill="none"/>
<path d="M643.5,246.2l3.6,3.6M647.1,246.2l-3.6,3.6" stroke="#211ea9" stroke-width="2.2" fill="none"/>
<path d="M643.5,251.6l3.6,3.6M647.1,251.6l-3.6,3.6" stroke="#3f7fb3" stroke-width="2.2" fill="none"/>
<path d="M643.5,269.0l3.6,3.6M647.1,269.0l-3.6,3.6" stroke="#b32929" stroke-width="2.2" fill="none"/>
<path d="M643.5,351.6l3.6,3.6M647.1,351.6l-3.6,3.6" stroke="#667421" stroke-width="2.2" fill="none"/>
<path d="M643.5,379.8l3.6,3.6M647.1,379.8l-3.6,3.6" stroke="#c07824" stroke-width="2.2" fill="none"/>
<path d="M643.5,389.4l3.6,3.6M647.1,389.4l-3.6,3.6" stroke="#181818" stroke-width="2.2" fill="none"/>
<path d="M643.5,396.8l3.6,3.6M647.1,396.8l-3.6,3.6" stroke="#1b746e" stroke-width="2.2" fill="none"/>
<path d="M643.5,413.2l3.6,3.6M647.1,413.2l-3.6,3.6" stroke="#c026be" stroke-width="2.2" fill="none"/>
<path d="M655.2,57.2l3.6,3.6M658.8,57.2l-3.6,3.6" stroke="#256e2a" stroke-width="2.2" fill="none"/>
<path d="M655.2,240.4l3.6,3.6M658.8,240.4l-3.6,3.6" stroke="#211ea9" stroke-width="2.2" fill="none"/>
<path d="M655.2,272.4l3.6,3.6M658.8,272.4l-3.6,3.6" stroke="#b32929" stroke-width="2.2" fill="none"/>
<path d="M655.2,350.4l3.6,3.6M658.8,350.4l-3.6,3.6" stroke="#667421" stroke-width="2.2" fill="none"/>
<path d="M655.2,374.7l3.6,3.6M658.8,374.7l-3.6,3.6" stroke="#b9ab21" stroke-width="2.2" fill="none"/>
<path d="M655.2,400.2l3.6,3.6M658.8,400.2l-3.6,3.6" stroke="#181818" stroke-width="2.2" fill="none"/>
<path d="M655.2,409.8l3.6,3.6M658.8,409.8l-3.6,3.6" stroke="#1b746e" stroke-width="2.2" fill="none"/>
<path d="M655.2,424.2l3.6,3.6M658.8,424.2l-3.6,3.6" stroke="#c026be" stroke-width="2.2" fill="none"/>
<path d="M668.5,32.5L671.3,35.3L668.5,38.1L665.7,35.3Z" fill="#2f8a35" stroke="#17451a" stroke-width="0.6"/>
<path d="M668.5,248.7L671.3,251.5L668.5,254.3L665.7,251.5Z" fill="#2a26d4" stroke="#15136a" stroke-width="0.6"/>
<path d="M668.5,296.5L671.3,299.3L668.5,302.1L665.7,299.3Z" fill="#4f9fe0" stroke="#274f70" stroke-width="0.6"/>
<path d="M668.5,312.7L671.3,315.5L668.5,318.3L665.7,315.5Z" fill="#e03434" stroke="#701a1a" stroke-width="0.6"/>
<path d="M668.5,336.6L671.3,339.4L668.5,342.2L665.7,339.4Z" fill="#f0962e" stroke="#784b17" stroke-width="0.6"/>
<path d="M668.5,360.5L671.3,363.3L668.5,366.1L665.7,363.3Z" fill="#80922a" stroke="#404915" stroke-width="0.6"/>
<path d="M668.5,384.8L671.3,387.6L668.5,390.4L665.7,387.6Z" fill="#e8d62a" stroke="#746b15" stroke-width="0.6"/>
<path d="M668.5,395.8L671.3,398.6L668.5,401.4L665.7,398.6Z" fill="#1e1e1e" stroke="#0f0f0f" stroke-width="0.6"/>
<path d="M668.5,411.8L671.3,414.6L668.5,417.4L665.7,414.6Z" fill="#22928a" stroke="#114945" stroke-width="0.6"/>
<path d="M668.5,417.1L671.3,419.9L668.5,422.7L665.7,419.9Z" fill="#f030ee" stroke="#781877" stroke-width="0.6"/>
<path d="M672.5,34.1h4.4M674.7,31.9v4.4" stroke="#236727" stroke-width="1.2" fill="none"/>
<path d="M672.5,241.8h4.4M674.7,239.6v4.4" stroke="#1f1c9f" stroke-width="1.2" fill="none"/>
<path d="M672.5,293.3h4.4M674.7,291.1v4.4" stroke="#3b77a8" stroke-width="1.2" fill="none"/>
<path d="M672.5,299.3h4.4M674.7,297.1v4.4" stroke="#a82727" stroke-width="1.2" fill="none"/>
<path d="M672.5,339.4h4.4M674.7,337.2v4.4" stroke="#606d1f" stroke-width="1.2" fill="none"/>
<path d="M672.5,372.5h4.4M674.7,370.3v4.4" stroke="#8a8a8a" stroke-width="1.2" fill="none"/>
<path d="M672.5,389.2h4.4M674.7,387.0v4.4" stroke="#161616" stroke-width="1.2" fill="none"/>
<path d="M672.5,409.6h4.4M674.7,407.4v4.4" stroke="#b47022" stroke-width="1.2" fill="none"/>
<path d="M672.5,426.4h4.4M674.7,424.2v4.4" stroke="#8a8a8a" stroke-width="1.2" fill="none"/>
<path d="M672.5,433.6h4.4M674.7,431.4v4.4" stroke="#b424b2" stroke-width="1.2" fill="none"/>
<circle cx="680.5" cy="21.3" r="2.4" fill="#2f8a35" stroke="#17451a" stroke-width="0.6"/>
<circle cx="680.5" cy="267.3" r="2.4" fill="#4f9fe0" stroke="#274f70" stroke-width="0.6"/>
<circle cx="680.5" cy="273.1" r="2.4" fill="#2a26d4" stroke="#15136a" stroke-width="0.6"/>
<circle cx="680.5" cy="282.4" r="2.4" fill="#e03434" stroke="#701a1a" stroke-width="0.6"/>
<circle cx="680.5" cy="350.8" r="2.4" fill="#f0962e" stroke="#784b17" stroke-width="0.6"/>
<circle cx="680.5" cy="389.4" r="2.4" fill="#e8d62a" stroke="#746b15" stroke-width="0.6"/>
<circle cx="680.5" cy="396.5" r="2.4" fill="#1e1e1e" stroke="#0f0f0f" stroke-width="0.6"/>
<circle cx="680.5" cy="422.4" r="2.4" fill="#f030ee" stroke="#781877" stroke-width="0.6"/>
<path d="M709.8,35.9L712.6,38.7L709.8,41.5L707.0,38.7Z" fill="#2f8a35" stroke="#17451a" stroke-width="0.6"/>
<path d="M709.8,251.6L712.6,254.4L709.8,257.2L707.0,254.4Z" fill="#2a26d4" stroke="#15136a" stroke-width="0.6"/>
<path d="M709.8,294.6L712.6,297.4L709.8,300.2L707.0,297.4Z" fill="#4f9fe0" stroke="#274f70" stroke-width="0.6"/>
<path d="M709.8,301.6L712.6,304.4L709.8,307.2L707.0,304.4Z" fill="#e03434" stroke="#701a1a" stroke-width="0.6"/>
<path d="M709.8,321.6L712.6,324.4L709.8,327.2L707.0,324.4Z" fill="#f0962e" stroke="#784b17" stroke-width="0.6"/>
<path d="M709.8,360.6L712.6,363.4L709.8,366.2L707.0,363.4Z" fill="#80922a" stroke="#404915" stroke-width="0.6"/>
<path d="M709.8,394.7L712.6,397.5L709.8,400.3L707.0,397.5Z" fill="#e8d62a" stroke="#746b15" stroke-width="0.6"/>
<path d="M709.8,418.2L712.6,421.0L709.8,423.8L707.0,421.0Z" fill="#22928a" stroke="#114945" stroke-width="0.6"/>
<path d="M721.8,37.3L724.6,40.1L721.8,42.9L719.0,40.1Z" fill="#2f8a35" stroke="#17451a" stroke-width="0.6"/>
<path d="M721.8,245.4L724.6,248.2L721.8,251.0L719.0,248.2Z" fill="#2a26d4" stroke="#15136a" stroke-width="0.6"/>
<path d="M721.8,290.4L724.6,293.2L721.8,296.0L719.0,293.2Z" fill="#f0962e" stroke="#784b17" stroke-width="0.6"/>
<path d="M721.8,304.6L724.6,307.4L721.8,310.2L719.0,307.4Z" fill="#e03434" stroke="#701a1a" stroke-width="0.6"/>
<path d="M721.8,347.1L724.6,349.9L721.8,352.7L719.0,349.9Z" fill="#4f9fe0" stroke="#274f70" stroke-width="0.6"/>
<path d="M721.8,364.1L724.6,366.9L721.8,369.7L719.0,366.9Z" fill="#80922a" stroke="#404915" stroke-width="0.6"/>
<path d="M721.8,399.4L724.6,402.2L721.8,405.0L719.0,402.2Z" fill="#e8d62a" stroke="#746b15" stroke-width="0.6"/>
<path d="M721.8,405.4L724.6,408.2L721.8,411.0L719.0,408.2Z" fill="#f030ee" stroke="#781877" stroke-width="0.6"/>
<path d="M725.6,36.7l3.6,3.6M729.2,36.7l-3.6,3.6" stroke="#256e2a" stroke-width="2.2" fill="none"/>
<path d="M725.6,247.3l3.6,3.6M729.2,247.3l-3.6,3.6" stroke="#211ea9" stroke-width="2.2" fill="none"/>
<path d="M725.6,280.0l3.6,3.6M729.2,280.0l-3.6,3.6" stroke="#b32929" stroke-width="2.2" fill="none"/>
<path d="M725.6,287.8l3.6,3.6M729.2,287.8l-3.6,3.6" stroke="#3f7fb3" stroke-width="2.2" fill="none"/>
<path d="M725.6,343.4l3.6,3.6M729.2,343.4l-3.6,3.6" stroke="#c07824" stroke-width="2.2" fill="none"/>
<path d="M725.6,369.2l3.6,3.6M729.2,369.2l-3.6,3.6" stroke="#667421" stroke-width="2.2" fill="none"/>
<path d="M725.6,387.2l3.6,3.6M729.2,387.2l-3.6,3.6" stroke="#b9ab21" stroke-width="2.2" fill="none"/>
<path d="M725.6,396.2l3.6,3.6M729.2,396.2l-3.6,3.6" stroke="#181818" stroke-width="2.2" fill="none"/>
<path d="M725.6,410.2l3.6,3.6M729.2,410.2l-3.6,3.6" stroke="#1b746e" stroke-width="2.2" fill="none"/>
<path d="M725.6,427.8l3.6,3.6M729.2,427.8l-3.6,3.6" stroke="#c026be" stroke-width="2.2" fill="none"/>
<circle cx="763.3" cy="38.3" r="2.4" fill="#2f8a35" stroke="#17451a" stroke-width="0.6"/>
<circle cx="763.3" cy="236.0" r="2.4" fill="#2a26d4" stroke="#15136a" stroke-width="0.6"/>
<circle cx="763.3" cy="280.0" r="2.4" fill="#4f9fe0" stroke="#274f70" stroke-width="0.6"/>
<circle cx="763.3" cy="282.8" r="2.4" fill="#e03434" stroke="#701a1a" stroke-width="0.6"/>
<circle cx="763.3" cy="316.9" r="2.4" fill="#f0962e" stroke="#784b17" stroke-width="0.6"/>
<circle cx="763.3" cy="367.1" r="2.4" fill="#80922a" stroke="#404915" stroke-width="0.6"/>
<circle cx="763.3" cy="393.0" r="2.4" fill="#e8d62a" stroke="#746b15" stroke-width="0.6"/>
<circle cx="763.3" cy="402.4" r="2.4" fill="#1e1e1e" stroke="#0f0f0f" stroke-width="0.6"/>
<circle cx="763.3" cy="413.0" r="2.4" fill="#22928a" stroke="#114945" stroke-width="0.6"/>
<circle cx="763.3" cy="419.0" r="2.4" fill="#f030ee" stroke="#781877" stroke-width="0.6"/>
<path d="M767.5,46.9l3.6,3.6M771.1,46.9l-3.6,3.6" stroke="#256e2a" stroke-width="2.2" fill="none"/>
<path d="M767.5,236.9l3.6,3.6M771.1,236.9l-3.6,3.6" stroke="#211ea9" stroke-width="2.2" fill="none"/>
<path d="M767.5,278.7l3.6,3.6M771.1,278.7l-3.6,3.6" stroke="#b32929" stroke-width="2.2" fill="none"/>
<path d="M767.5,285.9l3.6,3.6M771.1,285.9l-3.6,3.6" stroke="#3f7fb3" stroke-width="2.2" fill="none"/>
<path d="M767.5,315.1l3.6,3.6M771.1,315.1l-3.6,3.6" stroke="#c07824" stroke-width="2.2" fill="none"/>
<path d="M767.5,359.4l3.6,3.6M771.1,359.4l-3.6,3.6" stroke="#667421" stroke-width="2.2" fill="none"/>
<path d="M767.5,386.2l3.6,3.6M771.1,386.2l-3.6,3.6" stroke="#181818" stroke-width="2.2" fill="none"/>
<path d="M767.5,424.6l3.6,3.6M771.1,424.6l-3.6,3.6" stroke="#1b746e" stroke-width="2.2" fill="none"/>
<path d="M767.5,439.2l3.6,3.6M771.1,439.2l-3.6,3.6" stroke="#b02e58" stroke-width="2.2" fill="none"/>
<path d="M778.2,39.7L783.4,39.7L780.8,44.4Z" fill="#2f8a35" stroke="#17451a" stroke-width="0.6"/>
<path d="M778.2,239.2L783.4,239.2L780.8,243.9Z" fill="#2a26d4" stroke="#15136a" stroke-width="0.6"/>
<path d="M778.2,281.0L783.4,281.0L780.8,285.7Z" fill="#4f9fe0" stroke="#274f70" stroke-width="0.6"/>
<path d="M778.2,287.9L783.4,287.9L780.8,292.6Z" fill="#f0962e" stroke="#784b17" stroke-width="0.6"/>
<path d="M778.2,296.5L783.4,296.5L780.8,301.2Z" fill="#e03434" stroke="#701a1a" stroke-width="0.6"/>
<path d="M778.2,371.9L783.4,371.9L780.8,376.6Z" fill="#80922a" stroke="#404915" stroke-width="0.6"/>
<path d="M778.2,390.5L783.4,390.5L780.8,395.2Z" fill="#1e1e1e" stroke="#0f0f0f" stroke-width="0.6"/>
<path d="M778.2,410.9L783.4,410.9L780.8,415.6Z" fill="#f030ee" stroke="#781877" stroke-width="0.6"/>
<path d="M778.2,425.9L783.4,425.9L780.8,430.6Z" fill="#22928a" stroke="#114945" stroke-width="0.6"/>
<path d="M792.7,45.5L795.5,48.3L792.7,51.1L789.9,48.3Z" fill="#2f8a35" stroke="#17451a" stroke-width="0.6"/>
<path d="M792.7,235.9L795.5,238.7L792.7,241.5L789.9,238.7Z" fill="#2a26d4" stroke="#15136a" stroke-width="0.6"/>
<path d="M792.7,284.9L795.5,287.7L792.7,290.5L789.9,287.7Z" fill="#f0962e" stroke="#784b17" stroke-width="0.6"/>
<path d="M792.7,305.8L795.5,308.6L792.7,311.4L789.9,308.6Z" fill="#4f9fe0" stroke="#274f70" stroke-width="0.6"/>
<path d="M792.7,311.1L795.5,313.9L792.7,316.7L789.9,313.9Z" fill="#e03434" stroke="#701a1a" stroke-width="0.6"/>
<path d="M792.7,377.2L795.5,380.0L792.7,382.8L789.9,380.0Z" fill="#80922a" stroke="#404915" stroke-width="0.6"/>
<path d="M792.7,393.6L795.5,396.4L792.7,399.2L789.9,396.4Z" fill="#1e1e1e" stroke="#0f0f0f" stroke-width="0.6"/>
<path d="M792.7,409.2L795.5,412.0L792.7,414.8L789.9,412.0Z" fill="#dc3a6e" stroke="#6e1d37" stroke-width="0.6"/>
<path d="M792.7,412.2L795.5,415.0L792.7,417.8L789.9,415.0Z" fill="#e03434" stroke="#701a1a" stroke-width="0.6"/>
<path d="M795.9,45.0L801.1,45.0L798.5,49.7Z" fill="#2f8a35" stroke="#17451a" stroke-width="0.6"/>
<path d="M795.9,242.4L801.1,242.4L798.5,247.1Z" fill="#2a26d4" stroke="#15136a" stroke-width="0.6"/>
<path d="M795.9,298.1L801.1,298.1L798.5,302.8Z" fill="#4f9fe0" stroke="#274f70" stroke-width="0.6"/>
<path d="M795.9,301.7L801.1,301.7L798.5,306.4Z" fill="#e03434" stroke="#701a1a" stroke-width="0.6"/>
<path d="M795.9,355.4L801.1,355.4L798.5,360.1Z" fill="#80922a" stroke="#404915" stroke-width="0.6"/>
<path d="M795.9,388.4L801.1,388.4L798.5,393.1Z" fill="#e8d62a" stroke="#746b15" stroke-width="0.6"/>
<path d="M795.9,392.3L801.1,392.3L798.5,397.0Z" fill="#f030ee" stroke="#781877" stroke-width="0.6"/>
<path d="M795.9,401.5L801.1,401.5L798.5,406.2Z" fill="#1e1e1e" stroke="#0f0f0f" stroke-width="0.6"/>
<path d="M795.9,425.9L801.1,425.9L798.5,430.6Z" fill="#22928a" stroke="#114945" stroke-width="0.6"/>
<path d="M808.6,56.7l3.6,3.6M812.2,56.7l-3.6,3.6" stroke="#256e2a" stroke-width="2.2" fill="none"/>
<path d="M808.6,237.6l3.6,3.6M812.2,237.6l-3.6,3.6" stroke="#211ea9" stroke-width="2.2" fill="none"/>
<path d="M808.6,267.1l3.6,3.6M812.2,267.1l-3.6,3.6" stroke="#b32929" stroke-width="2.2" fill="none"/>
<path d="M808.6,288.0l3.6,3.6M812.2,288.0l-3.6,3.6" stroke="#c07824" stroke-width="2.2" fill="none"/>
<path d="M808.6,291.0l3.6,3.6M812.2,291.0l-3.6,3.6" stroke="#3f7fb3" stroke-width="2.2" fill="none"/>
<path d="M808.6,367.2l3.6,3.6M812.2,367.2l-3.6,3.6" stroke="#667421" stroke-width="2.2" fill="none"/>
<path d="M808.6,402.2l3.6,3.6M812.2,402.2l-3.6,3.6" stroke="#1b746e" stroke-width="2.2" fill="none"/>
<path d="M808.6,411.2l3.6,3.6M812.2,411.2l-3.6,3.6" stroke="#c026be" stroke-width="2.2" fill="none"/>
<path d="M808.6,424.8l3.6,3.6M812.2,424.8l-3.6,3.6" stroke="#b02e58" stroke-width="2.2" fill="none"/>
<path d="M845.5,59.8L848.3,62.6L845.5,65.4L842.7,62.6Z" fill="#2f8a35" stroke="#17451a" stroke-width="0.6"/>
<path d="M845.5,223.4L848.3,226.2L845.5,229.0L842.7,226.2Z" fill="#2a26d4" stroke="#15136a" stroke-width="0.6"/>
<path d="M845.5,287.0L848.3,289.8L845.5,292.6L842.7,289.8Z" fill="#4f9fe0" stroke="#274f70" stroke-width="0.6"/>
<path d="M845.5,307.2L848.3,310.0L845.5,312.8L842.7,310.0Z" fill="#f0962e" stroke="#784b17" stroke-width="0.6"/>
<path d="M845.5,370.2L848.3,373.0L845.5,375.8L842.7,373.0Z" fill="#80922a" stroke="#404915" stroke-width="0.6"/>
<path d="M845.5,382.8L848.3,385.6L845.5,388.4L842.7,385.6Z" fill="#22928a" stroke="#114945" stroke-width="0.6"/>
<path d="M845.5,388.2L848.3,391.0L845.5,393.8L842.7,391.0Z" fill="#f030ee" stroke="#781877" stroke-width="0.6"/>
<path d="M845.5,394.8L848.3,397.6L845.5,400.4L842.7,397.6Z" fill="#e8d62a" stroke="#746b15" stroke-width="0.6"/>
<path d="M845.5,397.2L848.3,400.0L845.5,402.8L842.7,400.0Z" fill="#1e1e1e" stroke="#0f0f0f" stroke-width="0.6"/>
<path d="M845.5,406.8L848.3,409.6L845.5,412.4L842.7,409.6Z" fill="#dc3a6e" stroke="#6e1d37" stroke-width="0.6"/>
<path d="M850.0,64.3l3.6,3.6M853.6,64.3l-3.6,3.6" stroke="#256e2a" stroke-width="2.2" fill="none"/>
<path d="M850.0,222.1l3.6,3.6M853.6,222.1l-3.6,3.6" stroke="#211ea9" stroke-width="2.2" fill="none"/>
<path d="M850.0,284.0l3.6,3.6M853.6,284.0l-3.6,3.6" stroke="#3f7fb3" stroke-width="2.2" fill="none"/>
<path d="M850.0,299.7l3.6,3.6M853.6,299.7l-3.6,3.6" stroke="#b32929" stroke-width="2.2" fill="none"/>
<path d="M850.0,378.6l3.6,3.6M853.6,378.6l-3.6,3.6" stroke="#b9ab21" stroke-width="2.2" fill="none"/>
<path d="M850.0,387.8l3.6,3.6M853.6,387.8l-3.6,3.6" stroke="#1b746e" stroke-width="2.2" fill="none"/>
<path d="M850.0,394.2l3.6,3.6M853.6,394.2l-3.6,3.6" stroke="#181818" stroke-width="2.2" fill="none"/>
<path d="M850.0,400.6l3.6,3.6M853.6,400.6l-3.6,3.6" stroke="#c026be" stroke-width="2.2" fill="none"/>
<path d="M850.0,420.8l3.6,3.6M853.6,420.8l-3.6,3.6" stroke="#c026be" stroke-width="2.2" fill="none"/>
<path d="M855.4,34.1h4.4M857.6,31.9v4.4" stroke="#236727" stroke-width="1.2" fill="none"/>
<path d="M855.4,220.2h4.4M857.6,218.0v4.4" stroke="#1f1c9f" stroke-width="1.2" fill="none"/>
<path d="M855.4,273.1h4.4M857.6,270.9v4.4" stroke="#3b77a8" stroke-width="1.2" fill="none"/>
<path d="M855.4,328.5h4.4M857.6,326.3v4.4" stroke="#a52b52" stroke-width="1.2" fill="none"/>
<path d="M855.4,362.0h4.4M857.6,359.8v4.4" stroke="#b47022" stroke-width="1.2" fill="none"/>
<path d="M855.4,367.6h4.4M857.6,365.4v4.4" stroke="#606d1f" stroke-width="1.2" fill="none"/>
<path d="M855.4,396.4h4.4M857.6,394.2v4.4" stroke="#161616" stroke-width="1.2" fill="none"/>
<path d="M855.4,401.0h4.4M857.6,398.8v4.4" stroke="#b424b2" stroke-width="1.2" fill="none"/>
<path d="M855.4,410.0h4.4M857.6,407.8v4.4" stroke="#b47022" stroke-width="1.2" fill="none"/>
<path d="M855.4,413.6h4.4M857.6,411.4v4.4" stroke="#a52b52" stroke-width="1.2" fill="none"/>
<path d="M860.8,47.3L866.0,47.3L863.4,52.0Z" fill="#2f8a35" stroke="#17451a" stroke-width="0.6"/>
<path d="M860.8,254.7L866.0,254.7L863.4,259.4Z" fill="#4f9fe0" stroke="#274f70" stroke-width="0.6"/>
<path d="M860.8,268.7L866.0,268.7L863.4,273.4Z" fill="#2a26d4" stroke="#15136a" stroke-width="0.6"/>
<path d="M860.8,285.6L866.0,285.6L863.4,290.3Z" fill="#e03434" stroke="#701a1a" stroke-width="0.6"/>
<path d="M860.8,294.9L866.0,294.9L863.4,299.6Z" fill="#e8d62a" stroke="#746b15" stroke-width="0.6"/>
<path d="M860.8,366.5L866.0,366.5L863.4,371.2Z" fill="#80922a" stroke="#404915" stroke-width="0.6"/>
<path d="M860.8,377.9L866.0,377.9L863.4,382.6Z" fill="#1e1e1e" stroke="#0f0f0f" stroke-width="0.6"/>
<path d="M860.8,392.3L866.0,392.3L863.4,397.0Z" fill="#e8d62a" stroke="#746b15" stroke-width="0.6"/>
<path d="M860.8,401.9L866.0,401.9L863.4,406.6Z" fill="#f030ee" stroke="#781877" stroke-width="0.6"/>
<path d="M860.8,412.3L866.0,412.3L863.4,417.0Z" fill="#22928a" stroke="#114945" stroke-width="0.6"/>
<path d="M860.8,423.9L866.0,423.9L863.4,428.6Z" fill="#dc3a6e" stroke="#6e1d37" stroke-width="0.6"/>
<path d="M886.8,38.0L889.6,40.8L886.8,43.6L884.0,40.8Z" fill="#2f8a35" stroke="#17451a" stroke-width="0.6"/>
<path d="M886.8,240.1L889.6,242.9L886.8,245.7L884.0,242.9Z" fill="#2a26d4" stroke="#15136a" stroke-width="0.6"/>
<path d="M886.8,288.4L889.6,291.2L886.8,294.0L884.0,291.2Z" fill="#4f9fe0" stroke="#274f70" stroke-width="0.6"/>
<path d="M886.8,318.1L889.6,320.9L886.8,323.7L884.0,320.9Z" fill="#f0962e" stroke="#784b17" stroke-width="0.6"/>
<path d="M886.8,321.6L889.6,324.4L886.8,327.2L884.0,324.4Z" fill="#e03434" stroke="#701a1a" stroke-width="0.6"/>
<path d="M886.8,373.8L889.6,376.6L886.8,379.4L884.0,376.6Z" fill="#80922a" stroke="#404915" stroke-width="0.6"/>
<path d="M886.8,380.8L889.6,383.6L886.8,386.4L884.0,383.6Z" fill="#22928a" stroke="#114945" stroke-width="0.6"/>
<path d="M886.8,388.2L889.6,391.0L886.8,393.8L884.0,391.0Z" fill="#f030ee" stroke="#781877" stroke-width="0.6"/>
<path d="M886.8,393.8L889.6,396.6L886.8,399.4L884.0,396.6Z" fill="#1e1e1e" stroke="#0f0f0f" stroke-width="0.6"/>
<path d="M886.8,418.2L889.6,421.0L886.8,423.8L884.0,421.0Z" fill="#dc3a6e" stroke="#6e1d37" stroke-width="0.6"/>
<path d="M890.4,16.2h4.4M892.6,14.0v4.4" stroke="#236727" stroke-width="1.2" fill="none"/>
<path d="M890.4,255.7h4.4M892.6,253.5v4.4" stroke="#1f1c9f" stroke-width="1.2" fill="none"/>
<path d="M890.4,297.0h4.4M892.6,294.8v4.4" stroke="#3b77a8" stroke-width="1.2" fill="none"/>
<path d="M890.4,335.5h4.4M892.6,333.3v4.4" stroke="#b47022" stroke-width="1.2" fill="none"/>
<path d="M890.4,348.7h4.4M892.6,346.5v4.4" stroke="#8a8a8a" stroke-width="1.2" fill="none"/>
<path d="M890.4,369.0h4.4M892.6,366.8v4.4" stroke="#606d1f" stroke-width="1.2" fill="none"/>
<path d="M890.4,388.0h4.4M892.6,385.8v4.4" stroke="#196d67" stroke-width="1.2" fill="none"/>
<path d="M890.4,396.0h4.4M892.6,393.8v4.4" stroke="#606d1f" stroke-width="1.2" fill="none"/>
<path d="M890.4,398.6h4.4M892.6,396.4v4.4" stroke="#161616" stroke-width="1.2" fill="none"/>
<path d="M890.4,416.0h4.4M892.6,413.8v4.4" stroke="#b424b2" stroke-width="1.2" fill="none"/>
<path d="M890.4,417.0h4.4M892.6,414.8v4.4" stroke="#b47022" stroke-width="1.2" fill="none"/>
<path d="M927.9,26.7L930.7,29.5L927.9,32.3L925.1,29.5Z" fill="#2f8a35" stroke="#17451a" stroke-width="0.6"/>
<path d="M927.9,251.0L930.7,253.8L927.9,256.6L925.1,253.8Z" fill="#2a26d4" stroke="#15136a" stroke-width="0.6"/>
<path d="M927.9,297.4L930.7,300.2L927.9,303.0L925.1,300.2Z" fill="#4f9fe0" stroke="#274f70" stroke-width="0.6"/>
<path d="M927.9,313.0L930.7,315.8L927.9,318.6L925.1,315.8Z" fill="#e03434" stroke="#701a1a" stroke-width="0.6"/>
<path d="M927.9,330.8L930.7,333.6L927.9,336.4L925.1,333.6Z" fill="#f0962e" stroke="#784b17" stroke-width="0.6"/>
<path d="M927.9,369.8L930.7,372.6L927.9,375.4L925.1,372.6Z" fill="#80922a" stroke="#404915" stroke-width="0.6"/>
<path d="M927.9,382.8L930.7,385.6L927.9,388.4L925.1,385.6Z" fill="#22928a" stroke="#114945" stroke-width="0.6"/>
<path d="M927.9,397.8L930.7,400.6L927.9,403.4L925.1,400.6Z" fill="#1e1e1e" stroke="#0f0f0f" stroke-width="0.6"/>
<path d="M927.9,403.6L930.7,406.4L927.9,409.2L925.1,406.4Z" fill="#dc3a6e" stroke="#6e1d37" stroke-width="0.6"/>
<path d="M927.9,408.8L930.7,411.6L927.9,414.4L925.1,411.6Z" fill="#f030ee" stroke="#781877" stroke-width="0.6"/>
<path d="M927.9,414.2L930.7,417.0L927.9,419.8L925.1,417.0Z" fill="#e8d62a" stroke="#746b15" stroke-width="0.6"/>
<circle cx="963.0" cy="58.7" r="4.0" fill="#2f8a35" stroke="#1c521f" stroke-width="0.6"/>
<circle cx="963.0" cy="229.7" r="4.0" fill="#2a26d4" stroke="#19167f" stroke-width="0.6"/>
<circle cx="963.0" cy="295.1" r="4.0" fill="#4f9fe0" stroke="#2f5f86" stroke-width="0.6"/>
<circle cx="963.0" cy="291.6" r="4.0" fill="#e03434" stroke="#861f1f" stroke-width="0.6"/>
<circle cx="963.0" cy="334.8" r="4.0" fill="#f0962e" stroke="#905a1b" stroke-width="0.6"/>
<circle cx="963.0" cy="369.6" r="4.0" fill="#1e1e1e" stroke="#121212" stroke-width="0.6"/>
<circle cx="963.0" cy="373.4" r="4.0" fill="#80922a" stroke="#4c5719" stroke-width="0.6"/>
<circle cx="963.0" cy="386.4" r="4.0" fill="#22928a" stroke="#145752" stroke-width="0.6"/>
<circle cx="963.0" cy="400.3" r="4.0" fill="#f030ee" stroke="#901c8e" stroke-width="0.6"/>
<circle cx="963.0" cy="401.5" r="4.0" fill="#dc3a6e" stroke="#842242" stroke-width="0.6"/>
<circle cx="963.0" cy="423.0" r="4.0" fill="#e8d62a" stroke="#8b8019" stroke-width="0.6"/>
<text transform="translate(291.2,196) rotate(-90)" font-size="7.6" textLength="116.5" lengthAdjust="spacingAndGlyphs">Вибори Президента - перший тур</text>
<text transform="translate(414.8,190.9) rotate(-90)" font-size="7.6" textLength="113.3" lengthAdjust="spacingAndGlyphs">Вибори Президента - другий тур</text>
<text transform="translate(950.3,194.4) rotate(-90)" font-size="7.6" textLength="117.4" lengthAdjust="spacingAndGlyphs">дострокові парламентські вибори</text>
<rect x="14.5" y="3.8" width="972.8" height="439.3" fill="none" stroke="#444" stroke-width="1.1"/>
<path d="M14.5,442.6h3M987.3,442.6h-3M14.5,405.6h3M987.3,405.6h-3M14.5,368.8h3M987.3,368.8h-3M14.5,331.8h3M987.3,331.8h-3M14.5,295.0h3M987.3,295.0h-3M14.5,258.2h3M987.3,258.2h-3M14.5,211.3h3M987.3,211.3h-3M14.5,165.2h3M987.3,165.2h-3M14.5,119.0h3M987.3,119.0h-3M14.5,73.2h3M987.3,73.2h-3M14.5,26.8h3M987.3,26.8h-3M49.9,443.1v-3M49.9,3.8v3M126.6,443.1v-3M126.6,3.8v3M215.0,443.1v-3M215.0,3.8v3M309.4,443.1v-3M309.4,3.8v3M397.8,443.1v-3M397.8,3.8v3M486.3,443.1v-3M486.3,3.8v3M574.7,443.1v-3M574.7,3.8v3M669.1,443.1v-3M669.1,3.8v3M757.5,443.1v-3M757.5,3.8v3M846.0,443.1v-3M846.0,3.8v3M934.5,443.1v-3M934.5,3.8v3" stroke="#666" stroke-width="0.7" fill="none"/>
<text x="12.6" y="445.3" font-size="7.6" text-anchor="end" textLength="4.0" lengthAdjust="spacingAndGlyphs" stroke="#222" stroke-width="0.2">0</text>
<text x="990.2" y="445.3" font-size="7.6" textLength="4.0" lengthAdjust="spacingAndGlyphs" stroke="#222" stroke-width="0.2">0</text>
<text x="12.6" y="408.3" font-size="7.6" text-anchor="end" textLength="4.0" lengthAdjust="spacingAndGlyphs" stroke="#222" stroke-width="0.2">2</text>
<text x="990.2" y="408.3" font-size="7.6" textLength="4.0" lengthAdjust="spacingAndGlyphs" stroke="#222" stroke-width="0.2">2</text>
<text x="12.6" y="371.5" font-size="7.6" text-anchor="end" textLength="4.0" lengthAdjust="spacingAndGlyphs" stroke="#222" stroke-width="0.2">4</text>
<text x="990.2" y="371.5" font-size="7.6" textLength="4.0" lengthAdjust="spacingAndGlyphs" stroke="#222" stroke-width="0.2">4</text>
<text x="12.6" y="334.5" font-size="7.6" text-anchor="end" textLength="4.0" lengthAdjust="spacingAndGlyphs" stroke="#222" stroke-width="0.2">6</text>
<text x="990.2" y="334.5" font-size="7.6" textLength="4.0" lengthAdjust="spacingAndGlyphs" stroke="#222" stroke-width="0.2">6</text>
<text x="12.6" y="297.7" font-size="7.6" text-anchor="end" textLength="4.0" lengthAdjust="spacingAndGlyphs" stroke="#222" stroke-width="0.2">8</text>
<text x="990.2" y="297.7" font-size="7.6" textLength="4.0" lengthAdjust="spacingAndGlyphs" stroke="#222" stroke-width="0.2">8</text>
<text x="12.6" y="260.9" font-size="7.6" text-anchor="end" textLength="8.0" lengthAdjust="spacingAndGlyphs" stroke="#222" stroke-width="0.2">10</text>
<text x="990.2" y="260.9" font-size="7.6" textLength="8.0" lengthAdjust="spacingAndGlyphs" stroke="#222" stroke-width="0.2">10</text>
<text x="12.6" y="214.0" font-size="7.6" text-anchor="end" textLength="8.0" lengthAdjust="spacingAndGlyphs" stroke="#222" stroke-width="0.2">15</text>
<text x="990.2" y="214.0" font-size="7.6" textLength="8.0" lengthAdjust="spacingAndGlyphs" stroke="#222" stroke-width="0.2">15</text>
<text x="12.6" y="167.9" font-size="7.6" text-anchor="end" textLength="8.0" lengthAdjust="spacingAndGlyphs" stroke="#222" stroke-width="0.2">20</text>
<text x="990.2" y="167.9" font-size="7.6" textLength="8.0" lengthAdjust="spacingAndGlyphs" stroke="#222" stroke-width="0.2">20</text>
<text x="12.6" y="121.7" font-size="7.6" text-anchor="end" textLength="8.0" lengthAdjust="spacingAndGlyphs" stroke="#222" stroke-width="0.2">30</text>
<text x="990.2" y="121.7" font-size="7.6" textLength="8.0" lengthAdjust="spacingAndGlyphs" stroke="#222" stroke-width="0.2">30</text>
<text x="12.6" y="75.9" font-size="7.6" text-anchor="end" textLength="8.0" lengthAdjust="spacingAndGlyphs" stroke="#222" stroke-width="0.2">40</text>
<text x="990.2" y="75.9" font-size="7.6" textLength="8.0" lengthAdjust="spacingAndGlyphs" stroke="#222" stroke-width="0.2">40</text>
<text x="12.6" y="29.5" font-size="7.6" text-anchor="end" textLength="8.0" lengthAdjust="spacingAndGlyphs" stroke="#222" stroke-width="0.2">50</text>
<text x="990.2" y="29.5" font-size="7.6" textLength="8.0" lengthAdjust="spacingAndGlyphs" stroke="#222" stroke-width="0.2">50</text>
<text transform="translate(48.4,451.0) rotate(-31)" font-size="8" text-anchor="end" textLength="38.6" lengthAdjust="spacingAndGlyphs" stroke="#222" stroke-width="0.25">2019-02-16</text>
<text transform="translate(125.1,451.0) rotate(-31)" font-size="8" text-anchor="end" textLength="38.6" lengthAdjust="spacingAndGlyphs" stroke="#222" stroke-width="0.25">2019-03-01</text>
<text transform="translate(213.5,451.0) rotate(-31)" font-size="8" text-anchor="end" textLength="38.6" lengthAdjust="spacingAndGlyphs" stroke="#222" stroke-width="0.25">2019-03-16</text>
<text transform="translate(307.9,451.0) rotate(-31)" font-size="8" text-anchor="end" textLength="38.6" lengthAdjust="spacingAndGlyphs" stroke="#222" stroke-width="0.25">2019-04-01</text>
<text transform="translate(396.3,451.0) rotate(-31)" font-size="8" text-anchor="end" textLength="38.6" lengthAdjust="spacingAndGlyphs" stroke="#222" stroke-width="0.25">2019-04-16</text>
<text transform="translate(484.8,451.0) rotate(-31)" font-size="8" text-anchor="end" textLength="38.6" lengthAdjust="spacingAndGlyphs" stroke="#222" stroke-width="0.25">2019-05-01</text>
<text transform="translate(573.2,451.0) rotate(-31)" font-size="8" text-anchor="end" textLength="38.6" lengthAdjust="spacingAndGlyphs" stroke="#222" stroke-width="0.25">2019-05-16</text>
<text transform="translate(667.6,451.0) rotate(-31)" font-size="8" text-anchor="end" textLength="38.6" lengthAdjust="spacingAndGlyphs" stroke="#222" stroke-width="0.25">2019-06-01</text>
<text transform="translate(756.0,451.0) rotate(-31)" font-size="8" text-anchor="end" textLength="38.6" lengthAdjust="spacingAndGlyphs" stroke="#222" stroke-width="0.25">2019-06-16</text>
<text transform="translate(844.5,451.0) rotate(-31)" font-size="8" text-anchor="end" textLength="38.6" lengthAdjust="spacingAndGlyphs" stroke="#222" stroke-width="0.25">2019-07-01</text>
<text transform="translate(933.0,451.0) rotate(-31)" font-size="8" text-anchor="end" textLength="38.6" lengthAdjust="spacingAndGlyphs" stroke="#222" stroke-width="0.25">2019-07-16</text>
<rect x="728.5" y="82.5" width="203.5" height="126.8" rx="1.6" fill="#fff" stroke="#444" stroke-width="1.1"/>
<path d="M733.3,88.9H746" stroke="#378a45" stroke-width="1.4"/>
<text x="753.3" y="91.9" font-size="8.4" fill="#2e2e2e" textLength="56.7" lengthAdjust="spacingAndGlyphs">Слуга народу</text>
<path d="M733.3,100.2H746" stroke="#5249d8" stroke-width="1.4"/>
<text x="753.3" y="103.2" font-size="8.4" fill="#2e2e2e" textLength="155.5" lengthAdjust="spacingAndGlyphs">Опозиційна платформа – «За Життя»</text>
<path d="M733.3,111.5H746" stroke="#5eaade" stroke-width="1.4"/>
<text x="753.3" y="114.5" font-size="8.4" fill="#2e2e2e" textLength="162.9" lengthAdjust="spacingAndGlyphs">Блок Петра Порошенка «Солідарність»</text>
<path d="M733.3,122.8H746" stroke="#e24e56" stroke-width="1.4"/>
<text x="753.3" y="125.8" font-size="8.4" fill="#2e2e2e" textLength="174.7" lengthAdjust="spacingAndGlyphs">Всеукраїнське об'єднання «Батьківщина»</text>
<path d="M733.3,134.1H746" stroke="#f4a048" stroke-width="1.4"/>
<text x="753.3" y="137.1" font-size="8.4" fill="#2e2e2e" textLength="23.3" lengthAdjust="spacingAndGlyphs">Голос</text>
<path d="M733.3,145.3H746" stroke="#8e9e3c" stroke-width="1.4"/>
<text x="753.3" y="148.3" font-size="8.4" fill="#2e2e2e" textLength="51.7" lengthAdjust="spacingAndGlyphs">Сила і Честь</text>
<path d="M733.3,156.6H746" stroke="#2d9a8c" stroke-width="1.4"/>
<text x="753.3" y="159.6" font-size="8.4" fill="#2e2e2e" textLength="75.3" lengthAdjust="spacingAndGlyphs">Опозиційний блок</text>
<path d="M733.3,167.9H746" stroke="#383838" stroke-width="1.4"/>
<text x="753.3" y="170.9" font-size="8.4" fill="#2e2e2e" textLength="135.4" lengthAdjust="spacingAndGlyphs">Радикальна партія Олега Ляшка</text>
<path d="M733.3,179.2H746" stroke="#f2e24a" stroke-width="1.4"/>
<text x="753.3" y="182.2" font-size="8.4" fill="#2e2e2e" textLength="93.0" lengthAdjust="spacingAndGlyphs">Громадянська позиція</text>
<path d="M733.3,190.5H746" stroke="#f048ee" stroke-width="1.4"/>
<text x="753.3" y="193.5" font-size="8.4" fill="#2e2e2e" textLength="134.8" lengthAdjust="spacingAndGlyphs">Українська Стратегія Гройсмана</text>
<path d="M733.3,201.8H746" stroke="#e04e84" stroke-width="1.4"/>
<text x="753.3" y="204.8" font-size="8.4" fill="#2e2e2e" textLength="54.6" lengthAdjust="spacingAndGlyphs">Партія Шарія</text>
<rect x="560.5" y="131.0" width="134.2" height="70.2" rx="1.6" fill="#fff" stroke="#444" stroke-width="1.1"/>
<path d="M565.8,137.1H577.2" stroke="#111" stroke-width="0.9"/>
<path d="M562.2,137.1h7.2M565.8,133.8v6.6" stroke="#111" stroke-width="2.3" fill="none"/>
<path d="M573.6,137.1h7.2M577.2,133.8v6.6" stroke="#111" stroke-width="2.3" fill="none"/>
<text x="585.7" y="140.1" font-size="8.4" fill="#2e2e2e" textLength="19.3" lengthAdjust="spacingAndGlyphs">КМІС</text>
<path d="M565.8,148.3H577.2" stroke="#111" stroke-width="0.9"/>
<path d="M565.8,144.4L569.7,148.3L565.8,152.2L561.9,148.3Z" fill="#111"/>
<path d="M577.2,144.4L581.1,148.3L577.2,152.2L573.3,148.3Z" fill="#111"/>
<text x="585.7" y="151.3" font-size="8.4" fill="#2e2e2e" textLength="32.6" lengthAdjust="spacingAndGlyphs">Рейтинг</text>
<path d="M565.8,159.5H577.2" stroke="#111" stroke-width="0.9"/>
<circle cx="565.8" cy="159.5" r="3.2" fill="#111"/>
<circle cx="577.2" cy="159.5" r="3.2" fill="#111"/>
<text x="585.7" y="162.5" font-size="8.4" fill="#2e2e2e" textLength="28.4" lengthAdjust="spacingAndGlyphs">СОЦИС</text>
<path d="M565.8,170.6H577.2" stroke="#111" stroke-width="0.9"/>
<path d="M563.3,168.1l5,5M568.3,168.1l-5,5" stroke="#111" stroke-width="2.4" fill="none"/>
<path d="M574.7,168.1l5,5M579.7,168.1l-5,5" stroke="#111" stroke-width="2.4" fill="none"/>
<text x="585.7" y="173.6" font-size="8.4" fill="#2e2e2e" textLength="92.8" lengthAdjust="spacingAndGlyphs">СоцМоніторинг & УІСД</text>
<path d="M565.8,181.8H577.2" stroke="#111" stroke-width="0.9"/>
<path d="M562.2,178.8L569.4,178.8L565.8,185.4Z" fill="#111"/>
<path d="M573.6,178.8L580.8,178.8L577.2,185.4Z" fill="#111"/>
<text x="585.7" y="184.8" font-size="8.4" fill="#2e2e2e" textLength="82.3" lengthAdjust="spacingAndGlyphs">Info Sapiens (ex-GfK)</text>
<path d="M565.8,193.0H577.2" stroke="#111" stroke-width="0.9"/>
<circle cx="565.8" cy="193.0" r="4.1" fill="#111"/>
<circle cx="577.2" cy="193.0" r="4.1" fill="#111"/>
<text x="585.7" y="196.0" font-size="8.4" fill="#2e2e2e" textLength="102.3" lengthAdjust="spacingAndGlyphs">ЦВК - 93.85% протоколів</text>
</svg></body></html>
